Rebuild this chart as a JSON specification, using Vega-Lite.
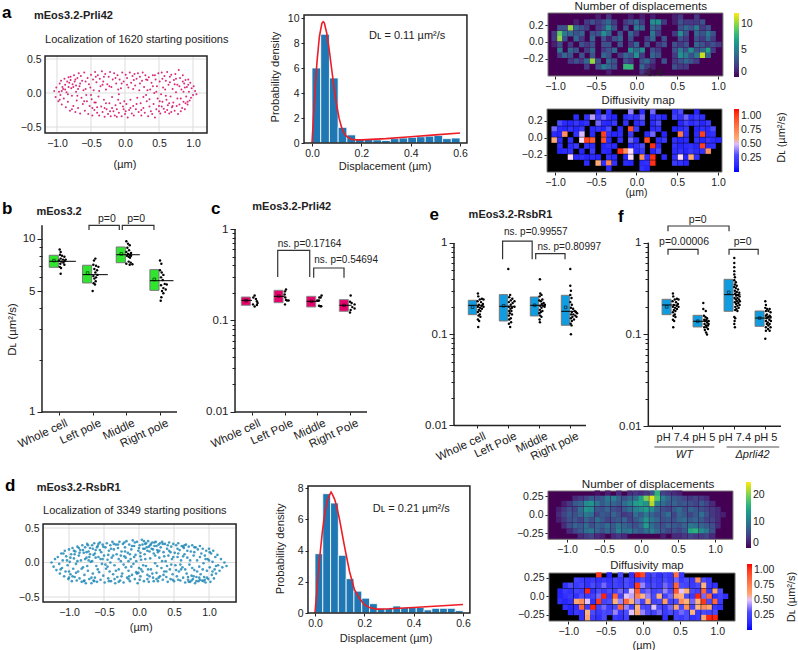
{"$schema":"https://vega.github.io/schema/vega-lite/v6.json","padding":0,"spacing":0,"data":{"values":[{"a":1}]},"resolve":{"scale":{"color":"independent"}},
"config":{"font":"Liberation Sans","view":{"stroke":null,"fill":"transparent"},"axis":{"domain":false,"grid":false,"labelOverlap":false,"tickCount":1000,"labelFontSize":10.5,"labelColor":"#222","tickColor":"#222","tickSize":3,"labelPadding":2,"title":null},"text":{"color":"#222","fontSize":11},"rule":{"color":"#222"},"legend":{"labelFontSize":10.5,"labelColor":"#222","labelOverlap":false}},
"datasets":{
"boxB":[{"x0":0.71,"x1":0.98,"xe":1.5,"q1":6.86,"q3":8.05,"med":7.43,"xm":0.85,"mean":7.5},{"x0":1.7,"x1":1.97,"xe":2.45,"q1":5.57,"q3":7.05,"med":6.22,"xm":1.85,"mean":6.35},{"x0":2.7,"x1":2.97,"xe":3.4,"q1":7.29,"q3":8.99,"med":8.11,"xm":2.85,"mean":8.2},{"x0":3.7,"x1":3.97,"xe":4.4,"q1":5.05,"q3":6.65,"med":5.74,"xm":3.83,"mean":5.84}],
"boxC":[{"x0":0.673,"x1":0.95,"xe":1.0,"q1":0.1466,"q3":0.1806,"med":0.166,"xm":0.82,"mean":0.165},{"x0":1.673,"x1":1.95,"xe":2.0,"q1":0.1566,"q3":0.2138,"med":0.1837,"xm":1.82,"mean":0.185},{"x0":2.673,"x1":2.95,"xe":3.05,"q1":0.1405,"q3":0.1837,"med":0.162,"xm":2.82,"mean":0.162},{"x0":3.673,"x1":3.95,"xe":4.05,"q1":0.126,"q3":0.169,"med":0.1466,"xm":3.82,"mean":0.1466}],
"boxE":[{"x0":0.71,"x1":0.98,"xe":1.2,"q1":0.1638,"q3":0.2355,"med":0.2075,"xm":0.85,"mean":0.198},{"x0":1.71,"x1":1.98,"xe":2.2,"q1":0.1397,"q3":0.2716,"med":0.2023,"xm":1.85,"mean":0.205},{"x0":2.71,"x1":2.98,"xe":3.2,"q1":0.1585,"q3":0.256,"med":0.2075,"xm":2.85,"mean":0.2075},{"x0":3.71,"x1":3.98,"xe":4.2,"q1":0.1253,"q3":0.2672,"med":0.1783,"xm":3.85,"mean":0.197}],
"boxF":[{"x0":0.67,"x1":0.96,"xe":1.2,"q1":0.1644,"q3":0.2417,"med":0.2096,"xm":0.82,"mean":0.2},{"x0":1.67,"x1":1.96,"xe":2.2,"q1":0.1208,"q3":0.1618,"med":0.1393,"xm":1.82,"mean":0.1393},{"x0":2.67,"x1":2.96,"xe":3.2,"q1":0.179,"q3":0.399,"med":0.2716,"xm":2.82,"mean":0.288},{"x0":3.67,"x1":3.96,"xe":4.2,"q1":0.1228,"q3":0.1803,"med":0.151,"xm":3.82,"mean":0.151}],
"ptB":[{"x":1.02,"y":8.7},{"x":1.05,"y":8.4},{"x":1.03,"y":8.1},{"x":1.09,"y":8.0},{"x":1.16,"y":7.9},{"x":1.05,"y":7.7},{"x":1.12,"y":7.6},{"x":1.2,"y":7.6},{"x":1.0,"y":7.5},{"x":1.17,"y":7.45},{"x":1.07,"y":7.4},{"x":1.13,"y":7.3},{"x":1.04,"y":7.2},{"x":1.16,"y":7.1},{"x":1.02,"y":6.9},{"x":1.06,"y":6.8},{"x":1.05,"y":6.3},
{"x":2.08,"y":7.7},{"x":2.04,"y":7.5},{"x":2.02,"y":7.1},{"x":2.1,"y":7.0},{"x":2.17,"y":6.9},{"x":2.05,"y":6.7},{"x":2.13,"y":6.6},{"x":2.08,"y":6.4},{"x":2.14,"y":6.2},{"x":2.02,"y":6.1},{"x":2.1,"y":6.0},{"x":2.05,"y":5.9},{"x":2.09,"y":5.7},{"x":2.03,"y":5.55},{"x":2.07,"y":5.45},{"x":2.0,"y":5.0},
{"x":3.0,"y":9.7},{"x":3.05,"y":9.4},{"x":3.1,"y":9.2},{"x":3.03,"y":8.9},{"x":3.08,"y":8.6},{"x":3.0,"y":8.4},{"x":3.14,"y":8.3},{"x":3.05,"y":8.2},{"x":3.1,"y":8.1},{"x":3.02,"y":8.0},{"x":3.14,"y":8.0},{"x":3.07,"y":7.9},{"x":3.11,"y":7.8},{"x":3.0,"y":7.2},{"x":3.07,"y":7.4},{"x":3.13,"y":7.3},{"x":3.18,"y":7.15},{"x":3.1,"y":7.1},
{"x":4.0,"y":7.5},{"x":4.04,"y":7.2},{"x":4.0,"y":6.6},{"x":4.05,"y":6.4},{"x":4.1,"y":6.2},{"x":4.03,"y":6.0},{"x":4.08,"y":5.8},{"x":4.14,"y":5.5},{"x":4.2,"y":5.45},{"x":4.03,"y":5.4},{"x":4.1,"y":5.2},{"x":4.17,"y":5.1},{"x":4.06,"y":5.0},{"x":4.1,"y":4.85},{"x":4.04,"y":4.6},{"x":4.02,"y":4.4}],
"ptC":[{"x":1.08,"y":0.188},{"x":1.04,"y":0.178},{"x":1.12,"y":0.172},{"x":1.15,"y":0.162},{"x":1.17,"y":0.155},{"x":1.15,"y":0.148},{"x":1.08,"y":0.142},{"x":1.03,"y":0.15},
{"x":2.04,"y":0.218},{"x":2.01,"y":0.208},{"x":2.0,"y":0.192},{"x":2.02,"y":0.178},{"x":2.07,"y":0.165},{"x":2.12,"y":0.165},{"x":2.01,"y":0.15},{"x":2.04,"y":0.168},
{"x":3.13,"y":0.188},{"x":3.06,"y":0.178},{"x":3.1,"y":0.178},{"x":3.0,"y":0.165},{"x":3.05,"y":0.165},{"x":3.05,"y":0.145},{"x":3.09,"y":0.143},{"x":3.12,"y":0.143},
{"x":4.02,"y":0.188},{"x":4.0,"y":0.16},{"x":4.05,"y":0.155},{"x":4.14,"y":0.15},{"x":4.07,"y":0.14},{"x":4.14,"y":0.135},{"x":4.02,"y":0.13},{"x":4.0,"y":0.122}],
"ptE":[{"x":1.02,"y":0.28},{"x":1.03,"y":0.26},{"x":1.15,"y":0.245},{"x":1.2,"y":0.24},{"x":1.08,"y":0.24},{"x":1.01,"y":0.23},{"x":1.12,"y":0.225},{"x":1.18,"y":0.215},{"x":1.05,"y":0.21},{"x":1.14,"y":0.205},{"x":1.2,"y":0.2},{"x":1.02,"y":0.2},{"x":1.09,"y":0.195},{"x":1.15,"y":0.19},{"x":1.05,"y":0.185},{"x":1.1,"y":0.18},{"x":1.02,"y":0.175},{"x":1.08,"y":0.165},{"x":1.04,"y":0.16},{"x":1.1,"y":0.155},{"x":1.02,"y":0.145},{"x":1.06,"y":0.14},{"x":1.03,"y":0.12},
{"x":2.0,"y":0.52},{"x":2.06,"y":0.27},{"x":2.03,"y":0.255},{"x":2.13,"y":0.245},{"x":2.08,"y":0.235},{"x":2.2,"y":0.23},{"x":2.02,"y":0.225},{"x":2.14,"y":0.22},{"x":2.08,"y":0.21},{"x":2.2,"y":0.2},{"x":2.02,"y":0.2},{"x":2.12,"y":0.195},{"x":2.07,"y":0.19},{"x":2.03,"y":0.18},{"x":2.1,"y":0.18},{"x":2.05,"y":0.17},{"x":2.12,"y":0.165},{"x":2.02,"y":0.16},{"x":2.08,"y":0.15},{"x":2.03,"y":0.145},{"x":2.09,"y":0.135},{"x":2.02,"y":0.13},{"x":2.06,"y":0.12},
{"x":3.02,"y":0.4},{"x":3.03,"y":0.28},{"x":3.07,"y":0.27},{"x":3.01,"y":0.26},{"x":3.1,"y":0.24},{"x":3.0,"y":0.235},{"x":3.05,"y":0.23},{"x":3.14,"y":0.22},{"x":3.08,"y":0.215},{"x":3.18,"y":0.21},{"x":3.03,"y":0.205},{"x":3.12,"y":0.205},{"x":3.17,"y":0.2},{"x":3.07,"y":0.195},{"x":3.02,"y":0.185},{"x":3.1,"y":0.18},{"x":3.05,"y":0.175},{"x":3.0,"y":0.17},{"x":3.03,"y":0.16},{"x":3.07,"y":0.155},{"x":3.01,"y":0.145},{"x":3.02,"y":0.135},
{"x":4.0,"y":0.52},{"x":4.0,"y":0.34},{"x":4.02,"y":0.3},{"x":4.0,"y":0.27},{"x":4.04,"y":0.25},{"x":4.0,"y":0.225},{"x":4.05,"y":0.21},{"x":4.02,"y":0.195},{"x":4.09,"y":0.19},{"x":4.14,"y":0.18},{"x":4.18,"y":0.175},{"x":4.05,"y":0.175},{"x":4.22,"y":0.17},{"x":4.1,"y":0.165},{"x":4.03,"y":0.165},{"x":4.16,"y":0.16},{"x":4.07,"y":0.155},{"x":4.2,"y":0.155},{"x":4.02,"y":0.15},{"x":4.12,"y":0.145},{"x":4.05,"y":0.14},{"x":4.01,"y":0.13},{"x":4.04,"y":0.125},{"x":4.02,"y":0.1}],
"ptF":[{"x":1.02,"y":0.28},{"x":1.03,"y":0.26},{"x":1.15,"y":0.245},{"x":1.2,"y":0.24},{"x":1.08,"y":0.24},{"x":1.01,"y":0.23},{"x":1.12,"y":0.225},{"x":1.18,"y":0.215},{"x":1.05,"y":0.21},{"x":1.14,"y":0.205},{"x":1.2,"y":0.2},{"x":1.02,"y":0.2},{"x":1.09,"y":0.195},{"x":1.15,"y":0.19},{"x":1.05,"y":0.185},{"x":1.1,"y":0.18},{"x":1.02,"y":0.175},{"x":1.08,"y":0.165},{"x":1.04,"y":0.16},{"x":1.1,"y":0.155},{"x":1.02,"y":0.145},{"x":1.06,"y":0.14},{"x":1.03,"y":0.12},
{"x":2.0,"y":0.22},{"x":2.0,"y":0.19},{"x":2.08,"y":0.18},{"x":2.02,"y":0.16},{"x":2.07,"y":0.155},{"x":2.12,"y":0.15},{"x":2.03,"y":0.145},{"x":2.1,"y":0.145},{"x":2.17,"y":0.14},{"x":2.05,"y":0.14},{"x":2.12,"y":0.135},{"x":2.17,"y":0.13},{"x":2.04,"y":0.13},{"x":2.09,"y":0.125},{"x":2.15,"y":0.125},{"x":2.03,"y":0.12},{"x":2.1,"y":0.12},{"x":2.15,"y":0.115},{"x":2.05,"y":0.112},{"x":2.09,"y":0.105},{"x":2.12,"y":0.1},
{"x":3.0,"y":0.68},{"x":3.0,"y":0.6},{"x":3.0,"y":0.54},{"x":3.0,"y":0.49},{"x":3.0,"y":0.45},{"x":3.02,"y":0.42},{"x":3.0,"y":0.39},{"x":3.05,"y":0.37},{"x":3.02,"y":0.35},{"x":3.08,"y":0.34},{"x":3.0,"y":0.33},{"x":3.05,"y":0.32},{"x":3.12,"y":0.31},{"x":3.02,"y":0.3},{"x":3.08,"y":0.29},{"x":3.16,"y":0.285},{"x":3.03,"y":0.28},{"x":3.12,"y":0.27},{"x":3.06,"y":0.265},{"x":3.17,"y":0.26},{"x":3.01,"y":0.25},{"x":3.1,"y":0.25},{"x":3.15,"y":0.24},{"x":3.05,"y":0.24},{"x":3.18,"y":0.23},{"x":3.09,"y":0.23},{"x":3.02,"y":0.225},{"x":3.13,"y":0.22},{"x":3.06,"y":0.215},{"x":3.17,"y":0.21},{"x":3.1,"y":0.205},{"x":3.03,"y":0.2},{"x":3.14,"y":0.195},{"x":3.07,"y":0.19},{"x":3.03,"y":0.185},{"x":3.1,"y":0.18},{"x":3.0,"y":0.155},{"x":3.03,"y":0.15},{"x":3.01,"y":0.14},{"x":3.0,"y":0.13},{"x":3.02,"y":0.12},
{"x":4.0,"y":0.23},{"x":4.02,"y":0.21},{"x":4.0,"y":0.195},{"x":4.06,"y":0.19},{"x":4.14,"y":0.19},{"x":4.02,"y":0.18},{"x":4.1,"y":0.18},{"x":4.17,"y":0.175},{"x":4.05,"y":0.165},{"x":4.14,"y":0.16},{"x":4.02,"y":0.16},{"x":4.09,"y":0.155},{"x":4.17,"y":0.155},{"x":4.04,"y":0.15},{"x":4.13,"y":0.145},{"x":4.18,"y":0.14},{"x":4.02,"y":0.14},{"x":4.08,"y":0.135},{"x":4.14,"y":0.13},{"x":4.05,"y":0.13},{"x":4.1,"y":0.125},{"x":4.17,"y":0.12},{"x":4.02,"y":0.12},{"x":4.09,"y":0.115},{"x":4.14,"y":0.11},{"x":4.02,"y":0.11},{"x":4.0,"y":0.09}],
"scatA":[{"x":-1.04,"y":0.03},{"x":-1.02,"y":-0.06},{"x":-1.01,"y":0.08},{"x":-0.98,"y":-0.12},{"x":-0.97,"y":0.02},{"x":-0.96,"y":0.14},{"x":-0.95,"y":-0.03},{"x":-0.94,"y":0.18},{"x":-0.93,"y":-0.17},{"x":-0.92,"y":0.09},{"x":-0.91,"y":0.06},{"x":-0.9,"y":-0.08},{"x":-0.89,"y":0.21},{"x":-0.88,"y":0.12},{"x":-0.87,"y":-0.21},{"x":-0.86,"y":0.01},{"x":-0.85,"y":0.17},{"x":-0.84,"y":-0.13},{"x":-0.83,"y":0.23},{"x":-0.82,"y":0.15},{"x":-0.81,"y":-0.26},{"x":-0.8,"y":0.19},{"x":-0.79,"y":0.07},{"x":-0.78,"y":-0.04},{"x":-0.77,"y":0.13},{"x":-0.76,"y":-0.19},{"x":-0.75,"y":0.26},{"x":-0.74,"y":0.17},{"x":-0.73,"y":-0.28},{"x":-0.72,"y":0.02},{"x":-0.71,"y":-0.11},{"x":-0.7,"y":0.22},{"x":-0.69,"y":-0.22},{"x":-0.68,"y":0.29},{"x":-0.67,"y":0.1},{"x":-0.66,"y":-0.3},{"x":-0.65,"y":0.25},{"x":-0.64,"y":-0.07},{"x":-0.63,"y":0.18},{"x":-0.62,"y":-0.16},{"x":-0.6,"y":0.3},{"x":-0.59,"y":-0.26},{"x":-0.58,"y":0.06},{"x":-0.57,"y":-0.03},{"x":-0.55,"y":0.22},{"x":-0.54,"y":-0.31},{"x":-0.53,"y":0.13},{"x":-0.52,"y":-0.19},{"x":-0.5,"y":0.27},{"x":-0.49,"y":-0.09},{"x":-0.48,"y":-0.33},{"x":-0.47,"y":0.2},{"x":-0.46,"y":0.04},{"x":-0.45,"y":-0.25},{"x":-0.44,"y":0.31},{"x":-0.43,"y":-0.14},{"x":-0.42,"y":0.16},{"x":-0.41,"y":-0.29},{"x":-0.4,"y":0.26},{"x":-0.39,"y":-0.05},{"x":-0.38,"y":-0.33},{"x":-0.37,"y":0.21},{"x":-0.36,"y":0.1},{"x":-0.35,"y":-0.2},{"x":-0.34,"y":0.32},{"x":-0.33,"y":-0.28},{"x":-0.32,"y":0.17},{"x":-0.31,"y":-0.1},{"x":-0.3,"y":-0.35},{"x":-0.29,"y":0.28},{"x":-0.28,"y":0.05},{"x":-0.27,"y":-0.24},{"x":-0.26,"y":0.13},{"x":-0.25,"y":-0.31},{"x":-0.24,"y":0.24},{"x":-0.23,"y":-0.15},{"x":-0.22,"y":0.31},{"x":-0.21,"y":-0.34},{"x":-0.2,"y":0.09},{"x":-0.19,"y":-0.06},{"x":-0.18,"y":0.2},{"x":-0.17,"y":-0.27},{"x":-0.16,"y":0.29},{"x":-0.15,"y":-0.33},{"x":-0.14,"y":-0.18},{"x":-0.13,"y":0.14},{"x":-0.12,"y":-0.35},{"x":-0.11,"y":0.26},{"x":-0.1,"y":-0.1},{"x":-0.09,"y":-0.29},{"x":-0.08,"y":0.2},{"x":-0.07,"y":-0.15},{"x":-0.06,"y":0.07},{"x":-0.05,"y":-0.34},{"x":-0.04,"y":0.3},{"x":-0.03,"y":-0.2},{"x":-0.02,"y":0.17},{"x":-0.01,"y":-0.12},{"x":0.0,"y":-0.31},{"x":0.01,"y":0.27},{"x":0.02,"y":-0.16},{"x":0.03,"y":0.22},{"x":0.04,"y":-0.36},{"x":0.05,"y":0.08},{"x":0.06,"y":-0.25},{"x":0.07,"y":0.3},{"x":0.08,"y":-0.1},{"x":0.09,"y":0.15},{"x":0.1,"y":-0.3},{"x":0.11,"y":0.25},{"x":0.12,"y":-0.19},{"x":0.13,"y":-0.33},{"x":0.14,"y":0.28},{"x":0.15,"y":0.11},{"x":0.16,"y":-0.24},{"x":0.17,"y":0.21},{"x":0.18,"y":-0.07},{"x":0.19,"y":0.29},{"x":0.2,"y":-0.28},{"x":0.21,"y":0.04},{"x":0.22,"y":0.24},{"x":0.23,"y":-0.15},{"x":0.24,"y":-0.33},{"x":0.25,"y":0.18},{"x":0.26,"y":0.3},{"x":0.27,"y":-0.22},{"x":0.28,"y":0.09},{"x":0.29,"y":-0.29},{"x":0.3,"y":0.26},{"x":0.31,"y":-0.03},{"x":0.32,"y":-0.12},{"x":0.33,"y":0.19},{"x":0.34,"y":-0.34},{"x":0.35,"y":0.23},{"x":0.36,"y":-0.2},{"x":0.37,"y":0.05},{"x":0.38,"y":-0.27},{"x":0.39,"y":0.15},{"x":0.4,"y":-0.31},{"x":0.41,"y":0.26},{"x":0.42,"y":-0.16},{"x":0.43,"y":0.0},{"x":0.44,"y":-0.36},{"x":0.45,"y":0.2},{"x":0.46,"y":-0.24},{"x":0.47,"y":0.1},{"x":0.48,"y":-0.08},{"x":0.49,"y":0.29},{"x":0.5,"y":-0.19},{"x":0.51,"y":0.17},{"x":0.52,"y":-0.3},{"x":0.53,"y":-0.02},{"x":0.54,"y":0.3},{"x":0.55,"y":-0.13},{"x":0.56,"y":0.08},{"x":0.57,"y":-0.23},{"x":0.58,"y":0.25},{"x":0.59,"y":-0.28},{"x":0.6,"y":0.18},{"x":0.61,"y":-0.1},{"x":0.62,"y":0.31},{"x":0.63,"y":-0.18},{"x":0.64,"y":0.12},{"x":0.65,"y":-0.3},{"x":0.66,"y":0.24},{"x":0.67,"y":-0.05},{"x":0.68,"y":0.27},{"x":0.69,"y":-0.21},{"x":0.7,"y":0.06},{"x":0.71,"y":-0.14},{"x":0.72,"y":0.19},{"x":0.73,"y":-0.26},{"x":0.74,"y":0.28},{"x":0.75,"y":0.01},{"x":0.76,"y":-0.19},{"x":0.77,"y":0.12},{"x":0.78,"y":-0.31},{"x":0.79,"y":0.34},{"x":0.8,"y":-0.17},{"x":0.81,"y":0.22},{"x":0.82,"y":-0.08},{"x":0.83,"y":0.05},{"x":0.84,"y":-0.22},{"x":0.85,"y":0.26},{"x":0.86,"y":-0.13},{"x":0.87,"y":0.14},{"x":0.88,"y":-0.24},{"x":0.89,"y":0.19},{"x":0.9,"y":-0.05},{"x":0.91,"y":0.09},{"x":0.92,"y":-0.17},{"x":0.93,"y":0.2},{"x":0.94,"y":0.02},{"x":0.95,"y":-0.11},{"x":0.96,"y":0.15},{"x":0.97,"y":-0.07},{"x":0.98,"y":0.07},{"x":1.0,"y":-0.03},{"x":1.01,"y":0.1},{"x":1.03,"y":0.03},{"x":1.05,"y":-0.02},{"x":-0.88,"y":0.05},{"x":-0.8,"y":0.24},{"x":-0.72,"y":0.11},{"x":-0.6,"y":-0.12},{"x":-0.45,"y":-0.14},{"x":-0.3,"y":-0.22},{"x":-0.1,"y":0.05},{"x":0.5,"y":-0.27},{"x":0.65,"y":-0.15},{"x":0.8,"y":0.1},{"x":0.86,"y":0.02},{"x":0.92,"y":-0.13},
{"x":-0.93,"y":0.03},{"x":-0.84,"y":-0.02},{"x":-0.76,"y":0.09},{"x":-0.73,"y":0.2},{"x":-0.7,"y":-0.04},{"x":-0.66,"y":0.14},{"x":-0.61,"y":0.04},{"x":-0.56,"y":-0.12},{"x":-0.51,"y":0.08},{"x":-0.48,"y":-0.22},{"x":-0.43,"y":0.24},{"x":-0.38,"y":0.03},{"x":-0.33,"y":0.12},{"x":-0.28,"y":-0.15},{"x":-0.23,"y":0.1},{"x":-0.19,"y":-0.22},{"x":-0.14,"y":0.22},{"x":-0.09,"y":-0.02},{"x":-0.05,"y":0.14},{"x":-0.02,"y":-0.24},{"x":0.03,"y":0.12},{"x":0.08,"y":-0.22},{"x":0.12,"y":0.06},{"x":0.17,"y":-0.16},{"x":0.22,"y":0.14},{"x":0.27,"y":-0.06},{"x":0.31,"y":0.2},{"x":0.36,"y":-0.09},{"x":0.41,"y":0.1},{"x":0.46,"y":0.02},{"x":0.51,"y":-0.12},{"x":0.55,"y":0.21},{"x":0.59,"y":0.05},{"x":0.62,"y":-0.25},{"x":0.66,"y":0.16},{"x":0.7,"y":-0.19},{"x":0.73,"y":0.13},{"x":0.77,"y":-0.08},{"x":0.82,"y":-0.27},{"x":0.85,"y":0.17},{"x":0.89,"y":-0.15},{"x":0.93,"y":0.12},{"x":-0.96,"y":-0.1},{"x":-0.83,"y":0.09},{"x":-0.78,"y":-0.24},{"x":-0.69,"y":0.06},{"x":-0.58,"y":0.17},{"x":-0.5,"y":-0.03},{"x":-0.41,"y":-0.21},{"x":-0.31,"y":0.24},{"x":-0.22,"y":-0.27},{"x":-0.12,"y":-0.24},{"x":0.01,"y":-0.27},{"x":0.13,"y":0.19},{"x":0.24,"y":-0.25},{"x":0.33,"y":0.04},{"x":0.44,"y":0.26},{"x":0.54,"y":-0.2},{"x":0.6,"y":-0.04},{"x":0.68,"y":-0.28},{"x":0.75,"y":0.21},{"x":0.88,"y":0.08}],
"scatD":[{"x":-1.25,"y":0.0},{"x":-1.22,"y":-0.06},{"x":-1.2,"y":0.05},{"x":-1.18,"y":-0.11},{"x":-1.16,"y":0.08},{"x":-1.14,"y":-0.02},{"x":-1.13,"y":-0.16},{"x":-1.11,"y":0.13},{"x":-1.1,"y":-0.08},{"x":-1.09,"y":0.03},{"x":-1.07,"y":-0.2},{"x":-1.06,"y":0.17},{"x":-1.05,"y":-0.13},{"x":-1.04,"y":0.09},{"x":-1.02,"y":-0.04},{"x":-1.01,"y":-0.24},{"x":-1.0,"y":0.19},{"x":-0.99,"y":0.01},{"x":-0.98,"y":-0.17},{"x":-0.97,"y":0.12},{"x":-0.96,"y":-0.27},{"x":-0.95,"y":0.21},{"x":-0.94,"y":-0.09},{"x":-0.93,"y":0.06},{"x":-0.92,"y":-0.21},{"x":-0.91,"y":0.16},{"x":-0.9,"y":-0.02},{"x":-0.89,"y":-0.26},{"x":-0.88,"y":0.23},{"x":-0.87,"y":-0.13},{"x":-0.86,"y":0.1},{"x":-0.85,"y":-0.23},{"x":-0.84,"y":0.18},{"x":-0.83,"y":0.03},{"x":-0.82,"y":-0.28},{"x":-0.81,"y":0.25},{"x":-0.8,"y":-0.07},{"x":-0.79,"y":0.14},{"x":-0.78,"y":-0.18},{"x":-0.77,"y":0.22},{"x":-0.76,"y":-0.3},{"x":-0.75,"y":0.07},{"x":-0.74,"y":0.27},{"x":-0.73,"y":-0.12},{"x":-0.72,"y":0.16},{"x":-0.71,"y":-0.24},{"x":-0.7,"y":0.21},{"x":-0.69,"y":0.01},{"x":-0.68,"y":-0.3},{"x":-0.67,"y":0.25},{"x":-0.66,"y":-0.16},{"x":-0.65,"y":0.11},{"x":-0.64,"y":0.28},{"x":-0.63,"y":-0.22},{"x":-0.62,"y":0.18},{"x":-0.61,"y":-0.05},{"x":-0.6,"y":-0.28},{"x":-0.59,"y":0.24},{"x":-0.58,"y":0.08},{"x":-0.57,"y":-0.14},{"x":-0.56,"y":0.29},{"x":-0.55,"y":-0.25},{"x":-0.54,"y":0.15},{"x":-0.53,"y":-0.02},{"x":-0.52,"y":0.26},{"x":-0.51,"y":-0.19},{"x":-0.5,"y":0.1},{"x":-0.49,"y":-0.29},{"x":-0.48,"y":0.22},{"x":-0.47,"y":-0.09},{"x":-0.46,"y":0.28},{"x":-0.45,"y":0.04},{"x":-0.44,"y":-0.23},{"x":-0.43,"y":0.17},{"x":-0.42,"y":-0.13},{"x":-0.41,"y":0.25},{"x":-0.4,"y":-0.27},{"x":-0.39,"y":0.07},{"x":-0.38,"y":0.3},{"x":-0.37,"y":-0.17},{"x":-0.36,"y":0.19},{"x":-0.35,"y":-0.04},{"x":-0.34,"y":-0.3},{"x":-0.33,"y":0.26},{"x":-0.32,"y":0.12},{"x":-0.31,"y":-0.21},{"x":-0.3,"y":0.21},{"x":-0.29,"y":-0.1},{"x":-0.28,"y":0.3},{"x":-0.27,"y":-0.26},{"x":-0.26,"y":0.02},{"x":-0.25,"y":0.16},{"x":-0.24,"y":-0.16},{"x":-0.23,"y":0.27},{"x":-0.22,"y":-0.29},{"x":-0.21,"y":0.09},{"x":-0.2,"y":0.22},{"x":-0.19,"y":-0.07},{"x":-0.18,"y":0.31},{"x":-0.17,"y":-0.22},{"x":-0.16,"y":0.14},{"x":-0.15,"y":-0.12},{"x":-0.14,"y":0.26},{"x":-0.13,"y":-0.27},{"x":-0.12,"y":0.05},{"x":-0.11,"y":0.19},{"x":-0.1,"y":-0.18},{"x":-0.09,"y":0.32},{"x":-0.08,"y":-0.02},{"x":-0.07,"y":0.24},{"x":-0.06,"y":-0.24},{"x":-0.05,"y":0.11},{"x":-0.04,"y":-0.14},{"x":-0.03,"y":0.3},{"x":-0.02,"y":-0.3},{"x":-0.01,"y":0.17},{"x":0.0,"y":-0.08},{"x":0.01,"y":0.25},{"x":0.02,"y":-0.2},{"x":0.03,"y":0.04},{"x":0.04,"y":0.33},{"x":0.05,"y":-0.13},{"x":0.06,"y":0.2},{"x":0.07,"y":-0.27},{"x":0.08,"y":0.12},{"x":0.09,"y":0.27},{"x":0.1,"y":-0.05},{"x":0.11,"y":0.22},{"x":0.12,"y":-0.18},{"x":0.13,"y":0.31},{"x":0.14,"y":-0.28},{"x":0.15,"y":0.16},{"x":0.16,"y":0.25},{"x":0.17,"y":-0.1},{"x":0.18,"y":0.2},{"x":0.19,"y":0.29},{"x":0.2,"y":-0.22},{"x":0.21,"y":0.13},{"x":0.22,"y":0.24},{"x":0.23,"y":-0.01},{"x":0.24,"y":0.3},{"x":0.25,"y":-0.15},{"x":0.26,"y":0.18},{"x":0.27,"y":-0.27},{"x":0.28,"y":0.26},{"x":0.29,"y":0.07},{"x":0.3,"y":-0.2},{"x":0.31,"y":0.22},{"x":0.32,"y":-0.08},{"x":0.33,"y":0.3},{"x":0.34,"y":-0.25},{"x":0.35,"y":0.15},{"x":0.36,"y":-0.13},{"x":0.37,"y":0.27},{"x":0.38,"y":0.02},{"x":0.39,"y":-0.21},{"x":0.4,"y":0.2},{"x":0.41,"y":-0.28},{"x":0.42,"y":0.1},{"x":0.43,"y":0.29},{"x":0.44,"y":-0.1},{"x":0.45,"y":-0.24},{"x":0.46,"y":0.23},{"x":0.47,"y":0.05},{"x":0.48,"y":-0.17},{"x":0.49,"y":0.27},{"x":0.5,"y":-0.27},{"x":0.51,"y":0.14},{"x":0.52,"y":-0.04},{"x":0.53,"y":0.25},{"x":0.54,"y":-0.2},{"x":0.55,"y":0.08},{"x":0.56,"y":0.28},{"x":0.57,"y":-0.13},{"x":0.58,"y":0.18},{"x":0.59,"y":-0.26},{"x":0.6,"y":0.03},{"x":0.61,"y":0.24},{"x":0.62,"y":-0.07},{"x":0.63,"y":-0.22},{"x":0.64,"y":0.21},{"x":0.65,"y":0.12},{"x":0.66,"y":-0.29},{"x":0.67,"y":0.26},{"x":0.68,"y":-0.16},{"x":0.69,"y":0.07},{"x":0.7,"y":-0.25},{"x":0.71,"y":0.23},{"x":0.72,"y":-0.03},{"x":0.73,"y":-0.28},{"x":0.74,"y":0.16},{"x":0.75,"y":-0.19},{"x":0.76,"y":0.25},{"x":0.77,"y":-0.24},{"x":0.78,"y":0.1},{"x":0.79,"y":-0.11},{"x":0.8,"y":-0.3},{"x":0.81,"y":0.22},{"x":0.82,"y":-0.21},{"x":0.83,"y":0.03},{"x":0.84,"y":0.19},{"x":0.85,"y":-0.27},{"x":0.86,"y":-0.06},{"x":0.87,"y":0.24},{"x":0.88,"y":-0.17},{"x":0.89,"y":0.13},{"x":0.9,"y":-0.26},{"x":0.91,"y":0.2},{"x":0.92,"y":-0.01},{"x":0.93,"y":-0.21},{"x":0.94,"y":0.1},{"x":0.95,"y":-0.29},{"x":0.96,"y":0.17},{"x":0.97,"y":-0.12},{"x":0.98,"y":0.05},{"x":0.99,"y":-0.24},{"x":1.0,"y":0.2},{"x":1.01,"y":-0.07},{"x":1.02,"y":-0.28},{"x":1.03,"y":0.13},{"x":1.04,"y":-0.18},{"x":1.05,"y":0.01},{"x":1.06,"y":0.17},{"x":1.07,"y":-0.23},{"x":1.08,"y":-0.1},{"x":1.09,"y":0.08},{"x":1.1,"y":-0.16},{"x":1.12,"y":0.11},{"x":1.13,"y":-0.04},{"x":1.15,"y":-0.12},{"x":1.17,"y":0.05},{"x":1.19,"y":-0.07},{"x":1.22,"y":0.0},{"x":1.25,"y":-0.05},{"x":-0.75,"y":0.15},{"x":-0.72,"y":0.03},{"x":-0.7,"y":0.12},{"x":-0.68,"y":-0.22},{"x":-0.66,"y":0.2},{"x":-0.64,"y":-0.27},{"x":-0.78,"y":-0.26},{"x":-0.8,"y":0.18},{"x":-0.62,"y":0.07},{"x":-0.6,"y":0.22},{"x":0.05,"y":0.26},{"x":0.08,"y":0.2},{"x":0.1,"y":0.28},{"x":0.12,"y":0.17},{"x":0.14,"y":0.23},{"x":0.17,"y":0.27},{"x":0.2,"y":0.19},{"x":0.22,"y":0.29},{"x":0.25,"y":0.24},{"x":0.27,"y":0.15},{"x":0.3,"y":0.28},{"x":0.02,"y":0.14},{"x":0.0,"y":0.21},{"x":-0.03,"y":-0.16},{"x":0.03,"y":-0.1},{"x":0.75,"y":-0.26},{"x":0.78,"y":-0.2},{"x":0.82,"y":-0.27},{"x":0.86,"y":-0.22},{"x":0.7,"y":-0.21},{"x":0.92,"y":-0.27},{"x":0.97,"y":-0.22},{"x":-0.4,"y":0.2},{"x":-0.3,"y":0.26},{"x":-0.2,"y":0.16},{"x":-0.1,"y":0.24},{"x":-0.35,"y":-0.24},{"x":-0.25,"y":-0.2},{"x":-0.15,"y":-0.24},{"x":0.15,"y":-0.2},{"x":0.25,"y":-0.24},{"x":0.35,"y":-0.18},{"x":0.45,"y":0.15},{"x":0.55,"y":0.2},{"x":0.65,"y":0.25},{"x":-0.95,"y":-0.2},{"x":-1.0,"y":-0.13},{"x":-0.9,"y":-0.15},{"x":-0.55,"y":0.05},{"x":-0.45,"y":-0.06},{"x":-0.15,"y":0.02},{"x":0.4,"y":-0.05},{"x":0.6,"y":-0.1},
{"x":-1.12,"y":-0.1},{"x":-1.03,"y":0.03},{"x":-0.98,"y":0.07},{"x":-0.92,"y":0.12},{"x":-0.88,"y":0.02},{"x":-0.85,"y":0.14},{"x":-0.82,"y":-0.09},{"x":-0.77,"y":0.05},{"x":-0.74,"y":-0.05},{"x":-0.71,"y":0.08},{"x":-0.67,"y":0.02},{"x":-0.63,"y":0.13},{"x":-0.59,"y":-0.1},{"x":-0.56,"y":0.18},{"x":-0.52,"y":0.05},{"x":-0.48,"y":-0.03},{"x":-0.44,"y":0.11},{"x":-0.41,"y":0.0},{"x":-0.37,"y":0.1},{"x":-0.33,"y":-0.12},{"x":-0.29,"y":0.05},{"x":-0.26,"y":0.1},{"x":-0.22,"y":-0.03},{"x":-0.19,"y":0.07},{"x":-0.13,"y":0.12},{"x":-0.11,"y":-0.06},{"x":-0.07,"y":0.08},{"x":-0.04,"y":0.02},{"x":-0.01,"y":-0.15},{"x":0.02,"y":0.09},{"x":0.06,"y":-0.04},{"x":0.09,"y":0.05},{"x":0.13,"y":-0.1},{"x":0.16,"y":0.06},{"x":0.19,"y":-0.16},{"x":0.23,"y":0.1},{"x":0.26,"y":-0.05},{"x":0.29,"y":0.17},{"x":0.33,"y":0.02},{"x":0.36,"y":0.09},{"x":0.39,"y":-0.13},{"x":0.43,"y":0.17},{"x":0.46,"y":-0.03},{"x":0.49,"y":0.08},{"x":0.53,"y":-0.11},{"x":0.56,"y":0.13},{"x":0.59,"y":-0.03},{"x":0.63,"y":0.09},{"x":0.66,"y":-0.1},{"x":0.69,"y":0.17},{"x":0.73,"y":0.03},{"x":0.76,"y":-0.08},{"x":0.79,"y":0.15},{"x":0.83,"y":-0.13},{"x":0.87,"y":0.08},{"x":0.91,"y":-0.1},{"x":0.95,"y":0.05},{"x":1.0,"y":0.03},{"x":1.05,"y":-0.13},{"x":1.1,"y":-0.05},{"x":-1.08,"y":0.13},{"x":-1.0,"y":-0.22},{"x":-0.93,"y":0.17},{"x":-0.86,"y":0.21},{"x":-0.79,"y":-0.27},{"x":-0.73,"y":0.25},{"x":-0.65,"y":-0.26},{"x":-0.58,"y":0.27},{"x":-0.51,"y":0.23},{"x":-0.43,"y":-0.27},{"x":-0.36,"y":0.27},{"x":-0.29,"y":-0.28},{"x":-0.21,"y":0.29},{"x":-0.14,"y":-0.2},{"x":-0.06,"y":0.29},{"x":0.01,"y":-0.25},{"x":0.07,"y":0.31},{"x":0.12,"y":-0.24},{"x":0.21,"y":-0.27},{"x":0.28,"y":-0.22},{"x":0.34,"y":0.27},{"x":0.41,"y":0.25},{"x":0.48,"y":-0.25},{"x":0.56,"y":-0.25},{"x":0.63,"y":0.23},{"x":0.71,"y":-0.28},{"x":0.79,"y":0.22},{"x":0.87,"y":-0.25},{"x":0.94,"y":-0.25},{"x":1.01,"y":0.15}],
"heatA":[{"x":-0.47,"y":0.3,"v":1,"d":0.1},{"x":-0.34,"y":0.3,"v":2,"d":0.15},{"x":-0.07,"y":0.3,"v":1,"d":0.4},{"x":0.07,"y":0.3,"v":1,"d":0.12},{"x":0.2,"y":0.3,"v":1,"d":0.35},{"x":0.47,"y":0.3,"v":1,"d":0.15},{"x":0.54,"y":0.3,"v":2,"d":0.3},{"x":0.74,"y":0.3,"v":2,"d":0.1},
{"x":-0.74,"y":0.24,"v":1,"d":0.12},{"x":-0.61,"y":0.24,"v":2,"d":0.15},{"x":-0.54,"y":0.24,"v":3,"d":0.45},{"x":-0.47,"y":0.24,"v":2,"d":0.2},{"x":-0.4,"y":0.24,"v":3,"d":0.35},{"x":-0.34,"y":0.24,"v":4,"d":0.15},{"x":-0.27,"y":0.24,"v":2,"d":0.1},{"x":-0.13,"y":0.24,"v":2,"d":0.12},{"x":-0.07,"y":0.24,"v":3,"d":0.2},{"x":0,"y":0.24,"v":4,"d":0.15},{"x":0.07,"y":0.24,"v":2,"d":0.35},{"x":0.2,"y":0.24,"v":6,"d":0.12},{"x":0.27,"y":0.24,"v":6,"d":0.18},{"x":0.34,"y":0.24,"v":2,"d":0.1},{"x":0.47,"y":0.24,"v":1,"d":0.25},{"x":0.54,"y":0.24,"v":3,"d":0.15},{"x":0.61,"y":0.24,"v":2,"d":0.35},{"x":0.67,"y":0.24,"v":2,"d":0.12},{"x":0.74,"y":0.24,"v":2,"d":0.2},{"x":0.81,"y":0.24,"v":3,"d":0.15},
{"x":-0.94,"y":0.17,"v":3,"d":0.3},{"x":-0.88,"y":0.17,"v":3,"d":0.12},{"x":-0.81,"y":0.17,"v":10,"d":0.1},{"x":-0.74,"y":0.17,"v":4,"d":0.18},{"x":-0.67,"y":0.17,"v":3,"d":0.1},{"x":-0.61,"y":0.17,"v":2,"d":0.15},{"x":-0.47,"y":0.17,"v":2,"d":0.35},{"x":-0.4,"y":0.17,"v":3,"d":0.12},{"x":-0.34,"y":0.17,"v":6,"d":0.1},{"x":-0.27,"y":0.17,"v":3,"d":0.2},{"x":-0.13,"y":0.17,"v":3,"d":0.15},{"x":0,"y":0.17,"v":5,"d":0.12},{"x":0.07,"y":0.17,"v":4,"d":0.2},{"x":0.2,"y":0.17,"v":4,"d":0.12},{"x":0.27,"y":0.17,"v":3,"d":0.3},{"x":0.54,"y":0.17,"v":3,"d":0.1},{"x":0.61,"y":0.17,"v":4,"d":0.25},{"x":0.67,"y":0.17,"v":3,"d":0.12},{"x":0.74,"y":0.17,"v":5,"d":0.18},{"x":0.81,"y":0.17,"v":2,"d":0.1},{"x":0.88,"y":0.17,"v":3,"d":0.2},
{"x":-1.01,"y":0.1,"v":2,"d":0.35},{"x":-0.94,"y":0.1,"v":9,"d":0.12},{"x":-0.88,"y":0.1,"v":5,"d":0.1},{"x":-0.81,"y":0.1,"v":4,"d":0.15},{"x":-0.74,"y":0.1,"v":3,"d":0.1},{"x":-0.67,"y":0.1,"v":4,"d":0.2},{"x":-0.54,"y":0.1,"v":3,"d":0.12},{"x":-0.47,"y":0.1,"v":3,"d":0.15},{"x":-0.4,"y":0.1,"v":6,"d":0.1},{"x":-0.34,"y":0.1,"v":4,"d":0.3},{"x":-0.2,"y":0.1,"v":3,"d":0.12},{"x":-0.07,"y":0.1,"v":4,"d":0.95},{"x":0,"y":0.1,"v":2,"d":0.2},{"x":0.2,"y":0.1,"v":5,"d":0.12},{"x":0.27,"y":0.1,"v":2,"d":0.15},{"x":0.47,"y":0.1,"v":2,"d":0.1},{"x":0.54,"y":0.1,"v":6,"d":0.12},{"x":0.61,"y":0.1,"v":3,"d":0.18},{"x":0.74,"y":0.1,"v":4,"d":0.1},{"x":0.81,"y":0.1,"v":3,"d":0.15},{"x":0.88,"y":0.1,"v":5,"d":0.12},{"x":0.94,"y":0.1,"v":3,"d":0.3},
{"x":-1.01,"y":0.04,"v":2,"d":0.12},{"x":-0.94,"y":0.04,"v":10,"d":0.1},{"x":-0.88,"y":0.04,"v":3,"d":0.7},{"x":-0.74,"y":0.04,"v":4,"d":0.15},{"x":-0.67,"y":0.04,"v":2,"d":0.5},{"x":-0.54,"y":0.04,"v":4,"d":0.12},{"x":-0.4,"y":0.04,"v":3,"d":1.0},{"x":-0.34,"y":0.04,"v":1,"d":0.15},{"x":-0.27,"y":0.04,"v":3,"d":0.1},{"x":-0.2,"y":0.04,"v":4,"d":0.12},{"x":-0.07,"y":0.04,"v":3,"d":0.2},{"x":0.13,"y":0.04,"v":2,"d":0.12},{"x":0.2,"y":0.04,"v":4,"d":0.35},{"x":0.34,"y":0.04,"v":3,"d":0.1},{"x":0.54,"y":0.04,"v":3,"d":0.8},{"x":0.61,"y":0.04,"v":2,"d":0.15},{"x":0.74,"y":0.04,"v":3,"d":0.12},{"x":0.81,"y":0.04,"v":2,"d":1.0},{"x":0.88,"y":0.04,"v":4,"d":0.12},{"x":0.94,"y":0.04,"v":2,"d":0.15},
{"x":-1.01,"y":-0.03,"v":1,"d":0.6},{"x":-0.94,"y":-0.03,"v":3,"d":0.12},{"x":-0.81,"y":-0.03,"v":2,"d":0.15},{"x":-0.67,"y":-0.03,"v":3,"d":0.55},{"x":-0.61,"y":-0.03,"v":2,"d":1.0},{"x":-0.54,"y":-0.03,"v":3,"d":0.9},{"x":-0.4,"y":-0.03,"v":3,"d":0.95},{"x":-0.34,"y":-0.03,"v":3,"d":0.12},{"x":-0.2,"y":-0.03,"v":3,"d":0.15},{"x":-0.07,"y":-0.03,"v":2,"d":0.35},{"x":0,"y":-0.03,"v":4,"d":0.12},{"x":0.13,"y":-0.03,"v":3,"d":0.95},{"x":0.27,"y":-0.03,"v":2,"d":0.12},{"x":0.34,"y":-0.03,"v":3,"d":0.2},{"x":0.47,"y":-0.03,"v":3,"d":0.15},{"x":0.54,"y":-0.03,"v":2,"d":0.1},{"x":0.61,"y":-0.03,"v":3,"d":0.12},{"x":0.74,"y":-0.03,"v":4,"d":0.15},{"x":0.81,"y":-0.03,"v":3,"d":0.1},{"x":0.88,"y":-0.03,"v":2,"d":0.18},{"x":0.94,"y":-0.03,"v":3,"d":0.12},{"x":1.01,"y":-0.03,"v":2,"d":0.1},
{"x":-0.94,"y":-0.1,"v":5,"d":0.15},{"x":-0.81,"y":-0.1,"v":4,"d":0.12},{"x":-0.74,"y":-0.1,"v":3,"d":0.2},{"x":-0.61,"y":-0.1,"v":2,"d":0.15},{"x":-0.54,"y":-0.1,"v":4,"d":0.12},{"x":-0.4,"y":-0.1,"v":2,"d":0.1},{"x":-0.34,"y":-0.1,"v":3,"d":0.15},{"x":-0.27,"y":-0.1,"v":4,"d":0.12},{"x":-0.07,"y":-0.1,"v":6,"d":0.1},{"x":0,"y":-0.1,"v":4,"d":0.15},{"x":0.07,"y":-0.1,"v":6,"d":0.3},{"x":0.2,"y":-0.1,"v":3,"d":1.05},{"x":0.27,"y":-0.1,"v":2,"d":0.12},{"x":0.47,"y":-0.1,"v":3,"d":0.15},{"x":0.54,"y":-0.1,"v":5,"d":0.1},{"x":0.61,"y":-0.1,"v":3,"d":0.12},{"x":0.67,"y":-0.1,"v":6,"d":0.15},{"x":0.74,"y":-0.1,"v":3,"d":0.1},{"x":0.81,"y":-0.1,"v":4,"d":1.0},{"x":0.88,"y":-0.1,"v":7,"d":0.12},{"x":0.94,"y":-0.1,"v":2,"d":0.15},
{"x":-0.94,"y":-0.16,"v":2,"d":0.1},{"x":-0.88,"y":-0.16,"v":4,"d":0.12},{"x":-0.81,"y":-0.16,"v":3,"d":0.15},{"x":-0.67,"y":-0.16,"v":3,"d":0.1},{"x":-0.54,"y":-0.16,"v":3,"d":0.2},{"x":-0.4,"y":-0.16,"v":4,"d":0.12},{"x":-0.34,"y":-0.16,"v":3,"d":0.1},{"x":-0.2,"y":-0.16,"v":2,"d":1.05},{"x":-0.13,"y":-0.16,"v":4,"d":0.7},{"x":-0.07,"y":-0.16,"v":3,"d":0.55},{"x":0,"y":-0.16,"v":6,"d":0.12},{"x":0.07,"y":-0.16,"v":2,"d":0.2},{"x":0.2,"y":-0.16,"v":4,"d":0.1},{"x":0.27,"y":-0.16,"v":3,"d":0.3},{"x":0.47,"y":-0.16,"v":2,"d":0.12},{"x":0.54,"y":-0.16,"v":6,"d":0.15},{"x":0.61,"y":-0.16,"v":5,"d":0.1},{"x":0.67,"y":-0.16,"v":3,"d":0.18},{"x":0.74,"y":-0.16,"v":5,"d":0.12},{"x":0.81,"y":-0.16,"v":11,"d":0.15},{"x":0.88,"y":-0.16,"v":4,"d":0.7},
{"x":-0.81,"y":-0.23,"v":2,"d":0.55},{"x":-0.74,"y":-0.23,"v":3,"d":0.12},{"x":-0.67,"y":-0.23,"v":2,"d":0.15},{"x":-0.61,"y":-0.23,"v":4,"d":0.1},{"x":-0.54,"y":-0.23,"v":10,"d":0.12},{"x":-0.47,"y":-0.23,"v":3,"d":0.1},{"x":-0.34,"y":-0.23,"v":4,"d":0.15},{"x":-0.27,"y":-0.23,"v":3,"d":0.12},{"x":-0.13,"y":-0.23,"v":3,"d":0.1},{"x":-0.07,"y":-0.23,"v":2,"d":0.55},{"x":0.07,"y":-0.23,"v":3,"d":0.7},{"x":0.13,"y":-0.23,"v":4,"d":0.15},{"x":0.2,"y":-0.23,"v":2,"d":1.05},{"x":0.34,"y":-0.23,"v":3,"d":0.12},{"x":0.47,"y":-0.23,"v":2,"d":0.15},{"x":0.54,"y":-0.23,"v":3,"d":0.55},{"x":0.61,"y":-0.23,"v":4,"d":0.1},{"x":0.67,"y":-0.23,"v":3,"d":0.6},{"x":0.74,"y":-0.23,"v":2,"d":0.15},
{"x":-0.61,"y":-0.3,"v":2,"d":0.12},{"x":-0.47,"y":-0.3,"v":3,"d":0.6},{"x":-0.4,"y":-0.3,"v":5,"d":0.15},{"x":-0.34,"y":-0.3,"v":4,"d":0.75},{"x":-0.27,"y":-0.3,"v":3,"d":0.15},{"x":-0.13,"y":-0.3,"v":8,"d":0.12},{"x":-0.07,"y":-0.3,"v":8,"d":0.1},{"x":0.07,"y":-0.3,"v":4,"d":0.12},{"x":0.13,"y":-0.3,"v":2,"d":0.15},{"x":0.2,"y":-0.3,"v":1,"d":1.05},{"x":0.47,"y":-0.3,"v":3,"d":0.2},{"x":0.54,"y":-0.3,"v":2,"d":0.15},{"x":0.61,"y":-0.3,"v":2,"d":0.1},
{"x":-0.34,"y":-0.36,"v":1,"d":0.12},{"x":0.07,"y":-0.36,"v":2,"d":0.15},{"x":0.13,"y":-0.36,"v":1,"d":0.1}],
"heatD":[{"x":-0.45,"y":0.29,"v":2,"d":0.1},{"x":-0.3,"y":0.29,"v":3,"d":0.3},{"x":-0.15,"y":0.29,"v":3,"d":0.15},{"x":-0.07,"y":0.29,"v":4,"d":1.05},{"x":0,"y":0.29,"v":3,"d":0.95},{"x":0.07,"y":0.29,"v":4,"d":0.2},{"x":0.15,"y":0.29,"v":6,"d":0.3},{"x":0.22,"y":0.29,"v":16,"d":0.15},{"x":0.3,"y":0.29,"v":5,"d":0.25},{"x":0.37,"y":0.29,"v":4,"d":0.2},{"x":0.45,"y":0.29,"v":3,"d":0.8},{"x":0.52,"y":0.29,"v":2,"d":0.2},{"x":-0.59,"y":0.29,"v":1,"d":1.0},
{"x":-0.89,"y":0.22,"v":3,"d":0.25},{"x":-0.82,"y":0.22,"v":4,"d":0.2},{"x":-0.74,"y":0.22,"v":5,"d":0.15},{"x":-0.67,"y":0.22,"v":7,"d":0.2},{"x":-0.59,"y":0.22,"v":6,"d":0.15},{"x":-0.52,"y":0.22,"v":7,"d":0.2},{"x":-0.45,"y":0.22,"v":10,"d":0.15},{"x":-0.37,"y":0.22,"v":11,"d":0.25},{"x":-0.3,"y":0.22,"v":8,"d":0.18},{"x":-0.22,"y":0.22,"v":6,"d":0.3},{"x":-0.15,"y":0.22,"v":8,"d":0.2},{"x":-0.07,"y":0.22,"v":9,"d":0.2},{"x":0,"y":0.22,"v":14,"d":0.3},{"x":0.07,"y":0.22,"v":20,"d":0.18},{"x":0.15,"y":0.22,"v":24,"d":0.25},{"x":0.22,"y":0.22,"v":18,"d":0.2},{"x":0.3,"y":0.22,"v":11,"d":0.3},{"x":0.37,"y":0.22,"v":8,"d":0.2},{"x":0.45,"y":0.22,"v":7,"d":0.35},{"x":0.52,"y":0.22,"v":6,"d":0.2},{"x":0.59,"y":0.22,"v":5,"d":0.3},{"x":0.67,"y":0.22,"v":4,"d":0.18},{"x":0.74,"y":0.22,"v":5,"d":0.7},{"x":0.82,"y":0.22,"v":4,"d":0.3},{"x":0.89,"y":0.22,"v":3,"d":0.2},
{"x":-1.04,"y":0.15,"v":2,"d":0.15},{"x":-0.97,"y":0.15,"v":4,"d":0.3},{"x":-0.89,"y":0.15,"v":7,"d":0.2},{"x":-0.82,"y":0.15,"v":8,"d":0.25},{"x":-0.74,"y":0.15,"v":12,"d":0.15},{"x":-0.67,"y":0.15,"v":13,"d":0.3},{"x":-0.59,"y":0.15,"v":10,"d":0.2},{"x":-0.52,"y":0.15,"v":7,"d":0.35},{"x":-0.45,"y":0.15,"v":9,"d":0.18},{"x":-0.37,"y":0.15,"v":8,"d":0.25},{"x":-0.3,"y":0.15,"v":7,"d":0.2},{"x":-0.22,"y":0.15,"v":9,"d":0.3},{"x":-0.15,"y":0.15,"v":11,"d":0.2},{"x":-0.07,"y":0.15,"v":14,"d":1.0},{"x":0,"y":0.15,"v":15,"d":0.4},{"x":0.07,"y":0.15,"v":13,"d":0.25},{"x":0.15,"y":0.15,"v":22,"d":0.3},{"x":0.22,"y":0.15,"v":11,"d":0.2},{"x":0.3,"y":0.15,"v":9,"d":0.35},{"x":0.37,"y":0.15,"v":7,"d":0.25},{"x":0.45,"y":0.15,"v":8,"d":0.85},{"x":0.52,"y":0.15,"v":6,"d":0.3},{"x":0.59,"y":0.15,"v":7,"d":0.25},{"x":0.67,"y":0.15,"v":6,"d":0.2},{"x":0.74,"y":0.15,"v":5,"d":0.3},{"x":0.82,"y":0.15,"v":7,"d":0.55},{"x":0.89,"y":0.15,"v":5,"d":0.2},{"x":0.97,"y":0.15,"v":3,"d":0.15},
{"x":-1.11,"y":0.07,"v":2,"d":0.1},{"x":-1.04,"y":0.07,"v":4,"d":0.2},{"x":-0.97,"y":0.07,"v":6,"d":0.15},{"x":-0.89,"y":0.07,"v":5,"d":0.25},{"x":-0.82,"y":0.07,"v":9,"d":0.2},{"x":-0.74,"y":0.07,"v":13,"d":1.05},{"x":-0.67,"y":0.07,"v":12,"d":0.15},{"x":-0.59,"y":0.07,"v":7,"d":0.3},{"x":-0.52,"y":0.07,"v":6,"d":0.2},{"x":-0.45,"y":0.07,"v":8,"d":0.3},{"x":-0.37,"y":0.07,"v":6,"d":0.25},{"x":-0.3,"y":0.07,"v":5,"d":0.35},{"x":-0.22,"y":0.07,"v":7,"d":0.3},{"x":-0.15,"y":0.07,"v":9,"d":0.5},{"x":-0.07,"y":0.07,"v":11,"d":0.9},{"x":0,"y":0.07,"v":12,"d":0.3},{"x":0.07,"y":0.07,"v":14,"d":0.35},{"x":0.15,"y":0.07,"v":12,"d":0.25},{"x":0.22,"y":0.07,"v":8,"d":0.3},{"x":0.3,"y":0.07,"v":6,"d":0.4},{"x":0.37,"y":0.07,"v":5,"d":0.3},{"x":0.45,"y":0.07,"v":7,"d":0.9},{"x":0.52,"y":0.07,"v":9,"d":0.5},{"x":0.59,"y":0.07,"v":6,"d":0.55},{"x":0.67,"y":0.07,"v":8,"d":0.3},{"x":0.74,"y":0.07,"v":7,"d":0.25},{"x":0.82,"y":0.07,"v":6,"d":0.85},{"x":0.89,"y":0.07,"v":5,"d":0.2},{"x":0.97,"y":0.07,"v":4,"d":0.6},{"x":1.04,"y":0.07,"v":3,"d":0.3},
{"x":-1.11,"y":0,"v":3,"d":0.1},{"x":-1.04,"y":0,"v":5,"d":0.15},{"x":-0.97,"y":0,"v":7,"d":0.2},{"x":-0.89,"y":0,"v":6,"d":0.15},{"x":-0.82,"y":0,"v":8,"d":0.3},{"x":-0.74,"y":0,"v":10,"d":0.2},{"x":-0.67,"y":0,"v":9,"d":0.25},{"x":-0.59,"y":0,"v":5,"d":0.35},{"x":-0.52,"y":0,"v":7,"d":1.05},{"x":-0.45,"y":0,"v":6,"d":0.2},{"x":-0.37,"y":0,"v":8,"d":0.85},{"x":-0.3,"y":0,"v":6,"d":0.25},{"x":-0.22,"y":0,"v":4,"d":0.5},{"x":-0.15,"y":0,"v":5,"d":0.45},{"x":-0.07,"y":0,"v":9,"d":0.75},{"x":0,"y":0,"v":7,"d":0.55},{"x":0.07,"y":0,"v":10,"d":0.4},{"x":0.15,"y":0,"v":8,"d":0.3},{"x":0.22,"y":0,"v":6,"d":0.55},{"x":0.3,"y":0,"v":7,"d":0.25},{"x":0.37,"y":0,"v":9,"d":0.35},{"x":0.45,"y":0,"v":5,"d":0.6},{"x":0.52,"y":0,"v":8,"d":0.55},{"x":0.59,"y":0,"v":7,"d":0.3},{"x":0.67,"y":0,"v":5,"d":0.2},{"x":0.74,"y":0,"v":7,"d":1.05},{"x":0.82,"y":0,"v":9,"d":0.35},{"x":0.89,"y":0,"v":6,"d":0.85},{"x":0.97,"y":0,"v":4,"d":0.15},{"x":1.04,"y":0,"v":3,"d":0.25},{"x":1.11,"y":0,"v":2,"d":0.15},
{"x":-1.11,"y":-0.07,"v":2,"d":0.15},{"x":-1.04,"y":-0.07,"v":4,"d":0.1},{"x":-0.97,"y":-0.07,"v":6,"d":0.15},{"x":-0.89,"y":-0.07,"v":7,"d":0.6},{"x":-0.82,"y":-0.07,"v":5,"d":0.7},{"x":-0.74,"y":-0.07,"v":8,"d":0.5},{"x":-0.67,"y":-0.07,"v":6,"d":0.15},{"x":-0.59,"y":-0.07,"v":9,"d":1.0},{"x":-0.52,"y":-0.07,"v":7,"d":0.25},{"x":-0.45,"y":-0.07,"v":5,"d":0.3},{"x":-0.37,"y":-0.07,"v":6,"d":0.55},{"x":-0.3,"y":-0.07,"v":7,"d":0.4},{"x":-0.22,"y":-0.07,"v":8,"d":0.85},{"x":-0.15,"y":-0.07,"v":5,"d":0.55},{"x":-0.07,"y":-0.07,"v":7,"d":0.4},{"x":0,"y":-0.07,"v":9,"d":0.25},{"x":0.07,"y":-0.07,"v":13,"d":0.6},{"x":0.15,"y":-0.07,"v":10,"d":0.25},{"x":0.22,"y":-0.07,"v":8,"d":0.3},{"x":0.3,"y":-0.07,"v":6,"d":0.65},{"x":0.37,"y":-0.07,"v":7,"d":0.25},{"x":0.45,"y":-0.07,"v":6,"d":0.3},{"x":0.52,"y":-0.07,"v":8,"d":0.7},{"x":0.59,"y":-0.07,"v":9,"d":0.55},{"x":0.67,"y":-0.07,"v":7,"d":0.35},{"x":0.74,"y":-0.07,"v":8,"d":0.55},{"x":0.82,"y":-0.07,"v":7,"d":1.0},{"x":0.89,"y":-0.07,"v":5,"d":0.3},{"x":0.97,"y":-0.07,"v":5,"d":0.85},{"x":1.04,"y":-0.07,"v":3,"d":0.2},
{"x":-1.04,"y":-0.15,"v":3,"d":0.15},{"x":-0.97,"y":-0.15,"v":6,"d":0.1},{"x":-0.89,"y":-0.15,"v":8,"d":0.15},{"x":-0.82,"y":-0.15,"v":7,"d":0.85},{"x":-0.74,"y":-0.15,"v":9,"d":0.2},{"x":-0.67,"y":-0.15,"v":6,"d":1.05},{"x":-0.59,"y":-0.15,"v":8,"d":0.25},{"x":-0.52,"y":-0.15,"v":7,"d":0.35},{"x":-0.45,"y":-0.15,"v":9,"d":0.2},{"x":-0.37,"y":-0.15,"v":7,"d":0.3},{"x":-0.3,"y":-0.15,"v":10,"d":0.85},{"x":-0.22,"y":-0.15,"v":8,"d":0.4},{"x":-0.15,"y":-0.15,"v":7,"d":0.25},{"x":-0.07,"y":-0.15,"v":6,"d":0.55},{"x":0,"y":-0.15,"v":8,"d":0.3},{"x":0.07,"y":-0.15,"v":14,"d":0.25},{"x":0.15,"y":-0.15,"v":9,"d":0.5},{"x":0.22,"y":-0.15,"v":7,"d":0.3},{"x":0.3,"y":-0.15,"v":6,"d":0.2},{"x":0.37,"y":-0.15,"v":8,"d":0.35},{"x":0.45,"y":-0.15,"v":7,"d":0.6},{"x":0.52,"y":-0.15,"v":6,"d":0.3},{"x":0.59,"y":-0.15,"v":8,"d":0.7},{"x":0.67,"y":-0.15,"v":10,"d":0.25},{"x":0.74,"y":-0.15,"v":9,"d":0.55},{"x":0.82,"y":-0.15,"v":8,"d":0.7},{"x":0.89,"y":-0.15,"v":7,"d":0.6},{"x":0.97,"y":-0.15,"v":6,"d":0.2},{"x":1.04,"y":-0.15,"v":3,"d":0.15},
{"x":-0.97,"y":-0.22,"v":3,"d":0.1},{"x":-0.89,"y":-0.22,"v":5,"d":0.2},{"x":-0.82,"y":-0.22,"v":7,"d":0.15},{"x":-0.74,"y":-0.22,"v":9,"d":0.55},{"x":-0.67,"y":-0.22,"v":10,"d":0.3},{"x":-0.59,"y":-0.22,"v":8,"d":0.2},{"x":-0.52,"y":-0.22,"v":6,"d":0.3},{"x":-0.45,"y":-0.22,"v":8,"d":0.25},{"x":-0.37,"y":-0.22,"v":7,"d":0.4},{"x":-0.3,"y":-0.22,"v":11,"d":0.2},{"x":-0.22,"y":-0.22,"v":9,"d":0.3},{"x":-0.15,"y":-0.22,"v":10,"d":0.5},{"x":-0.07,"y":-0.22,"v":8,"d":0.6},{"x":0,"y":-0.22,"v":7,"d":0.4},{"x":0.07,"y":-0.22,"v":9,"d":0.3},{"x":0.15,"y":-0.22,"v":11,"d":0.25},{"x":0.22,"y":-0.22,"v":8,"d":0.35},{"x":0.3,"y":-0.22,"v":7,"d":0.2},{"x":0.37,"y":-0.22,"v":5,"d":0.3},{"x":0.45,"y":-0.22,"v":6,"d":0.25},{"x":0.52,"y":-0.22,"v":5,"d":0.35},{"x":0.59,"y":-0.22,"v":7,"d":0.3},{"x":0.67,"y":-0.22,"v":15,"d":0.55},{"x":0.74,"y":-0.22,"v":16,"d":0.2},{"x":0.82,"y":-0.22,"v":12,"d":0.3},{"x":0.89,"y":-0.22,"v":10,"d":0.25},{"x":0.97,"y":-0.22,"v":6,"d":0.3},
{"x":-0.82,"y":-0.29,"v":3,"d":0.15},{"x":-0.74,"y":-0.29,"v":4,"d":0.6},{"x":-0.67,"y":-0.29,"v":5,"d":0.2},{"x":-0.59,"y":-0.29,"v":3,"d":0.15},{"x":-0.52,"y":-0.29,"v":2,"d":0.3},{"x":-0.37,"y":-0.29,"v":3,"d":0.2},{"x":-0.3,"y":-0.29,"v":4,"d":0.15},{"x":-0.22,"y":-0.29,"v":3,"d":0.25},{"x":0.3,"y":-0.29,"v":2,"d":0.15},{"x":0.45,"y":-0.29,"v":3,"d":0.25},{"x":0.52,"y":-0.29,"v":3,"d":0.2},{"x":0.59,"y":-0.29,"v":4,"d":0.3},{"x":0.67,"y":-0.29,"v":5,"d":0.15},{"x":0.74,"y":-0.29,"v":4,"d":0.2},{"x":0.82,"y":-0.29,"v":4,"d":0.6},{"x":0.89,"y":-0.29,"v":5,"d":1.05},{"x":0.97,"y":-0.29,"v":3,"d":1.05}]
},
"vconcat":[
{"hconcat":[
{"width":260,"height":195,"layer":[
{"data":{"values":[{"g":-1},{"g":-0.5},{"g":0},{"g":0.5},{"g":1}]},"mark":{"type":"rule","color":"#ddd","strokeWidth":1},"encoding":{"x":{"field":"g","type":"quantitative","scale":{"domain":[-1.838,1.985],"nice":false,"zero":false},"axis":{"offset":-62,"values":[-1,-0.5,0,0.5,1],"format":".1f","ticks":false,"labelPadding":5}},"y":{"datum":-0.588,"scale":{"domain":[-1.5,1.368],"nice":false,"zero":false},"axis":{"offset":-45,"values":[-0.5,0,0.5],"format":".1f","ticks":false,"labelPadding":4}},"y2":{"datum":0.544}}},
{"data":{"values":[{"g":-0.5},{"g":0},{"g":0.5}]},"mark":{"type":"rule","color":"#ddd","strokeWidth":1},"encoding":{"y":{"field":"g","type":"quantitative"},"x":{"datum":-1.176},"x2":{"datum":1.206}}},
{"data":{"name":"scatA"},"mark":{"type":"circle","size":4,"color":"#d4146e","opacity":0.9},"encoding":{"x":{"field":"x","type":"quantitative"},"y":{"field":"y","type":"quantitative"}}},
{"mark":{"type":"rect","fill":"transparent","stroke":"#222","strokeWidth":1.5},"encoding":{"x":{"datum":-1.176},"x2":{"datum":1.206},"y":{"datum":-0.588},"y2":{"datum":0.544}}},
{"mark":{"type":"text","align":"left","fontSize":17,"fontWeight":"bold","color":"#000"},"encoding":{"x":{"datum":-1.809},"y":{"datum":1.176},"text":{"value":"a"}}},
{"mark":{"type":"text","align":"left","fontSize":11,"fontWeight":"bold"},"encoding":{"x":{"datum":-1.338},"y":{"datum":1.132},"text":{"value":"mEos3.2-Prli42"}}},
{"mark":{"type":"text","align":"left"},"encoding":{"x":{"datum":-1.176},"y":{"datum":0.779},"text":{"value":"Localization of 1620 starting positions"}}},
{"mark":{"type":"text"},"encoding":{"x":{"datum":0.0},"y":{"datum":-1.06},"text":{"value":"(µm)"}}}
]},
{"width":240,"height":195,"layer":[
{"data":{"values":[{"a":0,"b":0.0353,"h":6.0},{"a":0.0353,"b":0.0706,"h":8.7},{"a":0.0706,"b":0.1059,"h":5.2},{"a":0.1059,"b":0.1412,"h":1.25},{"a":0.1412,"b":0.1765,"h":0.65},{"a":0.1765,"b":0.2118,"h":0.3},{"a":0.2118,"b":0.2471,"h":0.3},{"a":0.2471,"b":0.2824,"h":0.25},{"a":0.2824,"b":0.3176,"h":0.2},{"a":0.3176,"b":0.3529,"h":0.35},{"a":0.3529,"b":0.3882,"h":0.4},{"a":0.3882,"b":0.4235,"h":0.45},{"a":0.4235,"b":0.4588,"h":0.5},{"a":0.4588,"b":0.4941,"h":0.55},{"a":0.4941,"b":0.5294,"h":0.6},{"a":0.5294,"b":0.5647,"h":0.35},{"a":0.5647,"b":0.6,"h":0.4}]},"mark":{"type":"rect","fill":"#1f77b4","stroke":"#fff","strokeWidth":0.8},"encoding":{"x":{"field":"a","type":"quantitative","scale":{"domain":[-0.2108,0.762],"nice":false,"zero":false},"axis":{"offset":-52,"values":[0,0.2,0.4,0.6],"format":".1f"}},"x2":{"field":"b"},"y":{"field":"h","type":"quantitative","scale":{"domain":[-4.16,11.44],"nice":false,"zero":false},"axis":{"offset":-44,"values":[0,2,4,6,8,10],"format":"d"}},"y2":{"datum":0}}},
{"data":{"values":[{"x":0,"y":0},{"x":0.01,"y":3.47},{"x":0.02,"y":6.44},{"x":0.03,"y":8.54},{"x":0.04,"y":9.58},{"x":0.045,"y":9.7},{"x":0.05,"y":9.6},{"x":0.06,"y":8.77},{"x":0.07,"y":7.42},{"x":0.08,"y":5.86},{"x":0.09,"y":4.33},{"x":0.1,"y":3.02},{"x":0.11,"y":1.97},{"x":0.12,"y":1.25},{"x":0.13,"y":0.8},{"x":0.14,"y":0.52},{"x":0.16,"y":0.3},{"x":0.18,"y":0.25},{"x":0.2,"y":0.25},{"x":0.3,"y":0.35},{"x":0.4,"y":0.5},{"x":0.5,"y":0.65},{"x":0.6,"y":0.8}]},"mark":{"type":"line","color":"#ee1c25","strokeWidth":1.6},"encoding":{"x":{"field":"x","type":"quantitative"},"y":{"field":"y","type":"quantitative"}}},
{"mark":{"type":"rect","fill":"transparent","stroke":"#222","strokeWidth":1.5},"encoding":{"x":{"datum":-0.0324},"x2":{"datum":0.628},"y":{"datum":0},"y2":{"datum":10.24}}},
{"mark":{"type":"text","align":"left","fontSize":11},"encoding":{"x":{"datum":0.231},"y":{"datum":8.56},"text":{"value":"Dʟ = 0.11 µm²/s"}}},
{"mark":{"type":"text","fontSize":11},"encoding":{"x":{"datum":0.296},"y":{"datum":-1.92},"text":{"value":"Displacement (µm)"}}},
{"mark":{"type":"text","fontSize":11.2,"angle":270},"encoding":{"x":{"datum":-0.146},"y":{"datum":5.28},"text":{"value":"Probability density"}}}
]},
{"vconcat":[
{"width":298,"height":95,"layer":[
{"mark":{"type":"rect","fill":"#440154","stroke":"#777","strokeWidth":1},"encoding":{"x":{"datum":-1.086,"scale":{"domain":[-1.675,1.982],"nice":false,"zero":false},"axis":{"offset":-19,"values":[-1,-0.5,0,0.5,1],"format":".1f"}},"x2":{"datum":1.061},"y":{"datum":-0.41,"scale":{"domain":[-0.639,0.506],"nice":false,"zero":false},"axis":{"offset":-48,"values":[-0.2,0,0.2],"format":".1f"}},"y2":{"datum":0.349}}},
{"data":{"name":"heatA"},"mark":{"type":"rect","width":5.5,"height":5.5},"encoding":{"x":{"field":"x","type":"quantitative"},"y":{"field":"y","type":"quantitative"},"color":{"field":"v","type":"quantitative","scale":{"scheme":"viridis","domain":[0,12]},"legend":{"title":null,"orient":"none","legendX":234,"legendY":13,"gradientLength":64,"gradientThickness":5,"values":[0,5,10]}}}},
{"mark":{"type":"text","fontSize":11.7},"encoding":{"x":{"datum":0.052},"y":{"datum":0.43},"text":{"value":"Number of displacements"}}},
{"mark":{"type":"text"},"encoding":{"x":{"datum":0.2},"y":{"datum":-0.373},"text":{"value":"-0.4"}}}
]},
{"width":298,"height":100,"layer":[
{"mark":{"type":"rect","fill":"#000","stroke":"#777","strokeWidth":1},"encoding":{"x":{"datum":-1.098,"scale":{"domain":[-1.675,1.982],"nice":false,"zero":false},"axis":{"offset":-23,"values":[-1,-0.5,0,0.5,1],"format":".1f"}},"x2":{"datum":1.049},"y":{"datum":-0.406,"scale":{"domain":[-0.676,0.5],"nice":false,"zero":false},"axis":{"offset":-47,"values":[-0.2,0,0.2],"format":".1f"}},"y2":{"datum":0.335}}},
{"data":{"name":"heatA"},"mark":{"type":"rect","width":5.5,"height":5.5},"encoding":{"x":{"field":"x","type":"quantitative"},"y":{"field":"y","type":"quantitative"},"color":{"field":"d","type":"quantitative","scale":{"domain":[0,0.3,0.5625,1.125],"range":["#0000ff","#4a4aff","#ffffff","#ff0000"]},"legend":{"title":null,"orient":"none","legendX":234,"legendY":14,"gradientLength":63,"gradientThickness":5,"values":[0.25,0.5,0.75,1],"format":".2f"}}}},
{"mark":{"type":"text","fontSize":11.3},"encoding":{"x":{"datum":0.02},"y":{"datum":0.43},"text":{"value":"Diffusivity map"}}},
{"mark":{"type":"text","angle":270},"encoding":{"x":{"datum":1.785},"y":{"datum":0},"text":{"value":"Dʟ (µm²/s)"}}},
{"mark":{"type":"text","fontSize":10.5},"encoding":{"x":{"datum":0},"y":{"datum":-0.647},"text":{"value":"(µm)"}}}
]}
],"spacing":0,"bounds":"flush","resolve":{"scale":{"color":"independent"}}}
],"spacing":0,"bounds":"flush","resolve":{"scale":{"color":"independent"}}},
{"hconcat":[
{"width":195,"height":272,"layer":[
{"mark":{"type":"rule","strokeWidth":1.5},"encoding":{"x":{"datum":0.495,"scale":{"domain":[-0.752,5.039],"nice":false,"zero":false},"axis":{"offset":-60,"values":[1,2,3,4],"labelAngle":-25,"labelOffset":5,"labelFontSize":11.5,"labelExpr":"['Whole cell','Left pole','Middle','Right pole'][datum.value-1]"}},"x2":{"datum":4.505},"y":{"datum":1,"scale":{"type":"log","domain":[0.4499,16.8],"nice":false},"axis":{"offset":-42,"values":[1,2,3,4,5,6,7,8,9,10],"labelFontSize":11.5,"tickSize":{"condition":{"test":"datum.value==1||datum.value==5||datum.value==10","value":5},"value":3},"labelExpr":"datum.value==1||datum.value==5||datum.value==10?datum.value+'':''"}}}},
{"mark":{"type":"rule","strokeWidth":1.5},"encoding":{"x":{"datum":0.495},"y":{"datum":1},"y2":{"datum":12}}},
{"data":{"name":"boxB"},"mark":{"type":"rect","fill":"#2ee62e","stroke":"#777","strokeWidth":1},"encoding":{"x":{"field":"x0","type":"quantitative"},"x2":{"field":"x1"},"y":{"field":"q1","type":"quantitative"},"y2":{"field":"q3"}}},
{"data":{"name":"boxB"},"mark":{"type":"rule","color":"#000"},"encoding":{"x":{"field":"x0","type":"quantitative"},"x2":{"field":"xe"},"y":{"field":"med","type":"quantitative"}}},
{"data":{"name":"boxB"},"mark":{"type":"point","shape":"square","size":7,"color":"#000","strokeWidth":0.8},"encoding":{"x":{"field":"xm","type":"quantitative"},"y":{"field":"mean","type":"quantitative"}}},
{"data":{"name":"ptB"},"mark":{"type":"circle","size":6,"color":"#000","opacity":1},"encoding":{"x":{"field":"x","type":"quantitative"},"y":{"field":"y","type":"quantitative"}}},
{"data":{"values":[{"g":1,"o":0,"x":1.891,"y":11.27},{"g":1,"o":1,"x":1.891,"y":12},{"g":1,"o":2,"x":2.791,"y":12},{"g":1,"o":3,"x":2.791,"y":11.27},{"g":2,"o":0,"x":2.88,"y":11.27},{"g":2,"o":1,"x":2.88,"y":12},{"g":2,"o":2,"x":3.82,"y":12},{"g":2,"o":3,"x":3.82,"y":11.27}]},"mark":{"type":"line","color":"#333","strokeWidth":1.2},"encoding":{"x":{"field":"x","type":"quantitative"},"y":{"field":"y","type":"quantitative"},"detail":{"field":"g"},"order":{"field":"o"}}},
{"mark":{"type":"text","fontSize":10.5},"encoding":{"x":{"datum":2.42},"y":{"datum":13.1},"text":{"value":"p=0"}}},
{"mark":{"type":"text","fontSize":10.5},"encoding":{"x":{"datum":3.29},"y":{"datum":13.1},"text":{"value":"p=0"}}},
{"mark":{"type":"text","align":"left","fontSize":17,"fontWeight":"bold","color":"#000"},"encoding":{"x":{"datum":-0.69},"y":{"datum":15.0},"text":{"value":"b"}}},
{"mark":{"type":"text","align":"left","fontSize":11,"fontWeight":"bold"},"encoding":{"x":{"datum":0.33},"y":{"datum":14.4},"text":{"value":"mEos3.2"}}},
{"mark":{"type":"text","angle":270,"fontSize":11.5},"encoding":{"x":{"datum":-0.366},"y":{"datum":3.0},"text":{"value":"Dʟ (µm²/s)"}}}
]},
{"width":200,"height":272,"layer":[
{"mark":{"type":"rule","strokeWidth":1.5},"encoding":{"x":{"datum":0.48,"scale":{"domain":[-0.745,5.377],"nice":false,"zero":false},"axis":{"offset":-60,"values":[1,2,3,4],"labelAngle":-25,"labelOffset":5,"labelFontSize":11.5,"labelExpr":"['Whole cell','Left Pole','Middle','Right Pole'][datum.value-1]"}},"x2":{"datum":4.52},"y":{"datum":0.01,"scale":{"type":"log","domain":[0.002208,2.075],"nice":false},"axis":{"offset":-40,"values":[0.01,0.02,0.03,0.04,0.05,0.06,0.07,0.08,0.09,0.1,0.2,0.3,0.4,0.5,0.6,0.7,0.8,0.9,1],"labelFontSize":11.5,"tickSize":{"condition":{"test":"datum.value==0.01||datum.value==0.1||datum.value==1","value":5},"value":3},"labelExpr":"datum.value==0.01?'0.01':datum.value==0.1?'0.1':datum.value==1?'1':''"}}}},
{"mark":{"type":"rule","strokeWidth":1.5},"encoding":{"x":{"datum":0.48},"y":{"datum":0.01},"y2":{"datum":1}}},
{"data":{"name":"boxC"},"mark":{"type":"rect","fill":"#e8006c","stroke":"#888","strokeWidth":1},"encoding":{"x":{"field":"x0","type":"quantitative"},"x2":{"field":"x1"},"y":{"field":"q1","type":"quantitative"},"y2":{"field":"q3"}}},
{"data":{"name":"boxC"},"mark":{"type":"rule","color":"#000"},"encoding":{"x":{"field":"x0","type":"quantitative"},"x2":{"field":"xe"},"y":{"field":"med","type":"quantitative"}}},
{"data":{"name":"boxC"},"mark":{"type":"point","shape":"square","size":7,"color":"#000","strokeWidth":0.8},"encoding":{"x":{"field":"xm","type":"quantitative"},"y":{"field":"mean","type":"quantitative"}}},
{"data":{"name":"ptC"},"mark":{"type":"circle","size":6,"color":"#000","opacity":1},"encoding":{"x":{"field":"x","type":"quantitative"},"y":{"field":"y","type":"quantitative"}}},
{"data":{"values":[{"g":1,"o":0,"x":1.787,"y":0.299},{"g":1,"o":1,"x":1.787,"y":0.585},{"g":1,"o":2,"x":2.767,"y":0.585},{"g":1,"o":3,"x":2.767,"y":0.299},{"g":2,"o":0,"x":2.888,"y":0.2937},{"g":2,"o":1,"x":2.888,"y":0.375},{"g":2,"o":2,"x":3.816,"y":0.375},{"g":2,"o":3,"x":3.816,"y":0.2937}]},"mark":{"type":"line","color":"#333","strokeWidth":1.2},"encoding":{"x":{"field":"x","type":"quantitative"},"y":{"field":"y","type":"quantitative"},"detail":{"field":"g"},"order":{"field":"o"}}},
{"mark":{"type":"text","align":"left","fontSize":10},"encoding":{"x":{"datum":1.787},"y":{"datum":0.691},"text":{"value":"ns. p=0.17164"}}},
{"mark":{"type":"text","align":"left","fontSize":10},"encoding":{"x":{"datum":2.907},"y":{"datum":0.455},"text":{"value":"ns. p=0.54694"}}},
{"mark":{"type":"text","align":"left","fontSize":17,"fontWeight":"bold","color":"#000"},"encoding":{"x":{"datum":-0.255},"y":{"datum":1.675},"text":{"value":"c"}}},
{"mark":{"type":"text","align":"left","fontSize":11,"fontWeight":"bold"},"encoding":{"x":{"datum":1.01},"y":{"datum":1.74},"text":{"value":"mEos3.2-Prli42"}}}
]},
{"width":200,"height":272,"layer":[
{"mark":{"type":"rule","strokeWidth":1.5},"encoding":{"x":{"datum":0.248,"scale":{"domain":[-1.655,4.797],"nice":false,"zero":false},"axis":{"offset":-47,"values":[1,2,3,4],"labelAngle":-25,"labelOffset":5,"labelFontSize":11.5,"labelExpr":"['Whole cell','Left Pole','Middle','Right pole'][datum.value-1]"}},"x2":{"datum":4.506},"y":{"datum":0.01,"scale":{"type":"log","domain":[0.00309,2.96],"nice":false},"axis":{"offset":-59,"values":[0.01,0.02,0.03,0.04,0.05,0.06,0.07,0.08,0.09,0.1,0.2,0.3,0.4,0.5,0.6,0.7,0.8,0.9,1],"labelFontSize":11.5,"tickSize":{"condition":{"test":"datum.value==0.01||datum.value==0.1||datum.value==1","value":5},"value":3},"labelExpr":"datum.value==0.01?'0.01':datum.value==0.1?'0.1':datum.value==1?'1':''"}}}},
{"mark":{"type":"rule","strokeWidth":1.5},"encoding":{"x":{"datum":0.248},"y":{"datum":0.01},"y2":{"datum":1}}},
{"data":{"name":"boxE"},"mark":{"type":"rect","fill":"#109ce0","stroke":"#777","strokeWidth":1},"encoding":{"x":{"field":"x0","type":"quantitative"},"x2":{"field":"x1"},"y":{"field":"q1","type":"quantitative"},"y2":{"field":"q3"}}},
{"data":{"name":"boxE"},"mark":{"type":"rule","color":"#000"},"encoding":{"x":{"field":"x0","type":"quantitative"},"x2":{"field":"xe"},"y":{"field":"med","type":"quantitative"}}},
{"data":{"name":"boxE"},"mark":{"type":"point","shape":"square","size":7,"color":"#000","strokeWidth":0.8},"encoding":{"x":{"field":"xm","type":"quantitative"},"y":{"field":"mean","type":"quantitative"}}},
{"data":{"name":"ptE"},"mark":{"type":"circle","size":6,"color":"#000","opacity":1},"encoding":{"x":{"field":"x","type":"quantitative"},"y":{"field":"y","type":"quantitative"}}},
{"data":{"values":[{"g":1,"o":0,"x":1.816,"y":0.6626},{"g":1,"o":1,"x":1.816,"y":1.05},{"g":1,"o":2,"x":2.77,"y":1.05},{"g":1,"o":3,"x":2.77,"y":0.6626},{"g":2,"o":0,"x":2.884,"y":0.6626},{"g":2,"o":1,"x":2.884,"y":0.7636},{"g":2,"o":2,"x":3.83,"y":0.7636},{"g":2,"o":3,"x":3.83,"y":0.6626}]},"mark":{"type":"line","color":"#333","strokeWidth":1.2},"encoding":{"x":{"field":"x","type":"quantitative"},"y":{"field":"y","type":"quantitative"},"detail":{"field":"g"},"order":{"field":"o"}}},
{"mark":{"type":"text","align":"left","fontSize":10},"encoding":{"x":{"datum":1.86},"y":{"datum":1.32},"text":{"value":"ns. p=0.99557"}}},
{"mark":{"type":"text","align":"left","fontSize":10},"encoding":{"x":{"datum":2.94},"y":{"datum":0.904},"text":{"value":"ns. p=0.80997"}}},
{"mark":{"type":"text","align":"left","fontSize":17,"fontWeight":"bold","color":"#000"},"encoding":{"x":{"datum":-0.54},"y":{"datum":2.01},"text":{"value":"e"}}},
{"mark":{"type":"text","align":"left","fontSize":11,"fontWeight":"bold"},"encoding":{"x":{"datum":0.72},"y":{"datum":2.04},"text":{"value":"mEos3.2-RsbR1"}}}
]},
{"width":203,"height":272,"layer":[
{"mark":{"type":"rule","strokeWidth":1.5},"encoding":{"x":{"datum":0.226,"scale":{"domain":[-1.494,5.055],"nice":false,"zero":false},"axis":{"offset":-46,"values":[1,2,3,4],"labelFontSize":11,"labelExpr":"['pH 7.4','pH 5','pH 7.4','pH 5'][datum.value-1]"}},"x2":{"datum":4.506},"y":{"datum":0.01,"scale":{"type":"log","domain":[0.003177,2.918],"nice":false},"axis":{"offset":-53,"values":[0.01,0.02,0.03,0.04,0.05,0.06,0.07,0.08,0.09,0.1,0.2,0.3,0.4,0.5,0.6,0.7,0.8,0.9,1],"labelFontSize":11.5,"tickSize":{"condition":{"test":"datum.value==0.01||datum.value==0.1||datum.value==1","value":5},"value":3},"labelExpr":"datum.value==0.01?'0.01':datum.value==0.1?'0.1':datum.value==1?'1':''"}}}},
{"mark":{"type":"rule","strokeWidth":1.5},"encoding":{"x":{"datum":0.226},"y":{"datum":0.01},"y2":{"datum":1}}},
{"data":{"name":"boxF"},"mark":{"type":"rect","fill":"#109ce0","stroke":"#777","strokeWidth":1},"encoding":{"x":{"field":"x0","type":"quantitative"},"x2":{"field":"x1"},"y":{"field":"q1","type":"quantitative"},"y2":{"field":"q3"}}},
{"data":{"name":"boxF"},"mark":{"type":"rule","color":"#000"},"encoding":{"x":{"field":"x0","type":"quantitative"},"x2":{"field":"xe"},"y":{"field":"med","type":"quantitative"}}},
{"data":{"name":"boxF"},"mark":{"type":"point","shape":"square","size":7,"color":"#000","strokeWidth":0.8},"encoding":{"x":{"field":"xm","type":"quantitative"},"y":{"field":"mean","type":"quantitative"}}},
{"data":{"name":"ptF"},"mark":{"type":"circle","size":6,"color":"#000","opacity":1},"encoding":{"x":{"field":"x","type":"quantitative"},"y":{"field":"y","type":"quantitative"}}},
{"data":{"values":[{"g":1,"o":0,"x":0.861,"y":1.33},{"g":1,"o":1,"x":0.861,"y":1.52},{"g":1,"o":2,"x":2.83,"y":1.52},{"g":1,"o":3,"x":2.83,"y":1.33},{"g":2,"o":0,"x":0.861,"y":0.74},{"g":2,"o":1,"x":0.861,"y":0.8475},{"g":2,"o":2,"x":1.83,"y":0.8475},{"g":2,"o":3,"x":1.83,"y":0.74},{"g":3,"o":0,"x":2.83,"y":0.74},{"g":3,"o":1,"x":2.83,"y":0.8475},{"g":3,"o":2,"x":3.77,"y":0.8475},{"g":3,"o":3,"x":3.77,"y":0.74}]},"mark":{"type":"line","color":"#333","strokeWidth":1.2},"encoding":{"x":{"field":"x","type":"quantitative"},"y":{"field":"y","type":"quantitative"},"detail":{"field":"g"},"order":{"field":"o"}}},
{"mark":{"type":"text","fontSize":10.5},"encoding":{"x":{"datum":1.82},"y":{"datum":1.78},"text":{"value":"p=0"}}},
{"mark":{"type":"text","fontSize":10.5},"encoding":{"x":{"datum":1.38},"y":{"datum":1.01},"text":{"value":"p=0.00006"}}},
{"mark":{"type":"text","fontSize":10.5},"encoding":{"x":{"datum":3.27},"y":{"datum":1.01},"text":{"value":"p=0"}}},
{"mark":{"type":"text","align":"left","fontSize":17,"fontWeight":"bold","color":"#000"},"encoding":{"x":{"datum":-0.75},"y":{"datum":1.905},"text":{"value":"f"}}},
{"mark":{"type":"rule","color":"#555","strokeWidth":1.2},"encoding":{"x":{"datum":0.42},"x2":{"datum":2.355},"y":{"datum":0.00595}}},
{"mark":{"type":"rule","color":"#555","strokeWidth":1.2},"encoding":{"x":{"datum":2.75},"x2":{"datum":4.45},"y":{"datum":0.00595}}},
{"mark":{"type":"text","fontStyle":"italic","fontSize":11},"encoding":{"x":{"datum":1.387},"y":{"datum":0.0049},"text":{"value":"WT"}}},
{"mark":{"type":"text","fontStyle":"italic","fontSize":11},"encoding":{"x":{"datum":3.59},"y":{"datum":0.0049},"text":{"value":"Δprli42"}}}
]}
],"spacing":0,"bounds":"flush"},
{"hconcat":[
{"width":270,"height":180,"layer":[
{"data":{"values":[{"g":-1},{"g":-0.5},{"g":0},{"g":0.5},{"g":1}]},"mark":{"type":"rule","color":"#ddd","strokeWidth":1},"encoding":{"x":{"field":"g","type":"quantitative","scale":{"domain":[-1.986,1.871],"nice":false,"zero":false},"axis":{"offset":-50,"values":[-1,-0.5,0,0.5,1],"format":".1f","ticks":false,"labelPadding":5}},"y":{"datum":-0.572,"scale":{"domain":[-1.297,1.312],"nice":false,"zero":false},"axis":{"offset":-43,"values":[-0.5,0,0.5],"format":".1f","ticks":false,"labelPadding":4}},"y2":{"datum":0.558}}},
{"data":{"values":[{"g":-0.5},{"g":0},{"g":0.5}]},"mark":{"type":"rule","color":"#ddd","strokeWidth":1},"encoding":{"y":{"field":"g","type":"quantitative"},"x":{"datum":-1.371},"x2":{"datum":1.386}}},
{"data":{"name":"scatD"},"mark":{"type":"circle","size":7,"color":"#1583b3","opacity":0.8},"encoding":{"x":{"field":"x","type":"quantitative"},"y":{"field":"y","type":"quantitative"}}},
{"mark":{"type":"rect","fill":"transparent","stroke":"#222","strokeWidth":1.5},"encoding":{"x":{"datum":-1.371},"x2":{"datum":1.386},"y":{"datum":-0.572},"y2":{"datum":0.558}}},
{"mark":{"type":"text","align":"left","fontSize":17,"fontWeight":"bold","color":"#000"},"encoding":{"x":{"datum":-1.914},"y":{"datum":1.109},"text":{"value":"d"}}},
{"mark":{"type":"text","align":"left","fontSize":11,"fontWeight":"bold"},"encoding":{"x":{"datum":-1.461},"y":{"datum":1.08},"text":{"value":"mEos3.2-RsbR1"}}},
{"mark":{"type":"text","align":"left"},"encoding":{"x":{"datum":-1.371},"y":{"datum":0.746},"text":{"value":"Localization of 3349 starting positions"}}},
{"mark":{"type":"text"},"encoding":{"x":{"datum":0.03},"y":{"datum":-0.945},"text":{"value":"(µm)"}}}
]},
{"width":230,"height":180,"layer":[
{"data":{"values":[{"a":0,"b":0.0316,"h":3.8},{"a":0.0316,"b":0.0632,"h":7.65},{"a":0.0632,"b":0.0947,"h":7.05},{"a":0.0947,"b":0.1263,"h":3.7},{"a":0.1263,"b":0.1579,"h":2.2},{"a":0.1579,"b":0.1895,"h":1.4},{"a":0.1895,"b":0.2211,"h":0.95},{"a":0.2211,"b":0.2526,"h":0.6},{"a":0.2526,"b":0.2842,"h":0.3},{"a":0.2842,"b":0.3158,"h":0.3},{"a":0.3158,"b":0.3474,"h":0.45},{"a":0.3474,"b":0.3789,"h":0.35},{"a":0.3789,"b":0.4105,"h":0.35},{"a":0.4105,"b":0.4421,"h":0.35},{"a":0.4421,"b":0.4737,"h":0.2},{"a":0.4737,"b":0.5053,"h":0.3},{"a":0.5053,"b":0.5368,"h":0.3},{"a":0.5368,"b":0.5684,"h":0.3},{"a":0.5684,"b":0.6,"h":0.15}]},"mark":{"type":"rect","fill":"#1f77b4","stroke":"#fff","strokeWidth":0.8},"encoding":{"x":{"field":"a","type":"quantitative","scale":{"domain":[-0.1824,0.75],"nice":false,"zero":false},"axis":{"offset":-39,"values":[0,0.2,0.4,0.6],"format":".1f"}},"x2":{"field":"b"},"y":{"field":"h","type":"quantitative","scale":{"domain":[-2.5,9.04],"nice":false,"zero":false},"axis":{"offset":-38,"values":[0,2,4,6,8],"format":"d"}},"y2":{"datum":0}}},
{"data":{"values":[{"x":0,"y":0},{"x":0.01,"y":1.92},{"x":0.02,"y":3.7},{"x":0.03,"y":5.24},{"x":0.04,"y":6.42},{"x":0.05,"y":7.2},{"x":0.06,"y":7.6},{"x":0.065,"y":7.75},{"x":0.07,"y":7.62},{"x":0.08,"y":7.27},{"x":0.09,"y":6.7},{"x":0.1,"y":5.95},{"x":0.12,"y":4.24},{"x":0.14,"y":2.66},{"x":0.16,"y":1.49},{"x":0.18,"y":0.95},{"x":0.2,"y":0.54},{"x":0.22,"y":0.35},{"x":0.25,"y":0.25},{"x":0.3,"y":0.27},{"x":0.4,"y":0.35},{"x":0.5,"y":0.45},{"x":0.6,"y":0.55}]},"mark":{"type":"line","color":"#ee1c25","strokeWidth":1.6},"encoding":{"x":{"field":"x","type":"quantitative"},"y":{"field":"y","type":"quantitative"}}},
{"mark":{"type":"rect","fill":"transparent","stroke":"#222","strokeWidth":1.5},"encoding":{"x":{"datum":-0.0284},"x2":{"datum":0.628},"y":{"datum":0},"y2":{"datum":8.14}}},
{"mark":{"type":"text","align":"left","fontSize":11},"encoding":{"x":{"datum":0.234},"y":{"datum":6.69},"text":{"value":"Dʟ = 0.21 µm²/s"}}},
{"mark":{"type":"text","fontSize":11},"encoding":{"x":{"datum":0.288},"y":{"datum":-1.69},"text":{"value":"Displacement (µm)"}}},
{"mark":{"type":"text","fontSize":11.2,"angle":270},"encoding":{"x":{"datum":-0.138},"y":{"datum":4.12},"text":{"value":"Probability density"}}}
]},
{"vconcat":[
{"width":298,"height":80,"layer":[
{"mark":{"type":"rect","fill":"#440154","stroke":"#777","strokeWidth":1},"encoding":{"x":{"datum":-1.257,"scale":{"domain":[-1.905,2.122],"nice":false,"zero":false},"axis":{"offset":-13,"values":[-1,-0.5,0,0.5,1],"format":".1f"}},"x2":{"datum":1.243},"y":{"datum":-0.332,"scale":{"domain":[-0.504,0.577],"nice":false,"zero":false},"axis":{"offset":-48,"values":[-0.25,0,0.25],"labelExpr":"datum.value==0?'0.0':format(datum.value,'.2f')"}},"y2":{"datum":0.32}}},
{"data":{"name":"heatD"},"mark":{"type":"rect","width":5.5,"height":5.5},"encoding":{"x":{"field":"x","type":"quantitative"},"y":{"field":"y","type":"quantitative"},"color":{"field":"v","type":"quantitative","scale":{"scheme":"viridis","domain":[0,25]},"legend":{"title":null,"orient":"none","legendX":246,"legendY":10,"gradientLength":66,"gradientThickness":5,"values":[0,10,20]}}}},
{"mark":{"type":"text","fontSize":11.7},"encoding":{"x":{"datum":0.095},"y":{"datum":0.419},"text":{"value":"Number of displacements"}}}
]},
{"width":298,"height":100,"layer":[
{"mark":{"type":"rect","fill":"#000","stroke":"#777","strokeWidth":1},"encoding":{"x":{"datum":-1.259,"scale":{"domain":[-1.917,2.083],"nice":false,"zero":false},"axis":{"offset":-31,"values":[-1,-0.5,0,0.5,1],"format":".1f"}},"x2":{"datum":1.238},"y":{"datum":-0.337,"scale":{"domain":[-0.759,0.604],"nice":false,"zero":false},"axis":{"offset":-49,"values":[-0.25,0,0.25],"labelExpr":"datum.value==0?'0.0':format(datum.value,'.2f')"}},"y2":{"datum":0.317}}},
{"data":{"name":"heatD"},"mark":{"type":"rect","width":5.5,"height":5.5},"encoding":{"x":{"field":"x","type":"quantitative"},"y":{"field":"y","type":"quantitative"},"color":{"field":"d","type":"quantitative","scale":{"domain":[0,0.3,0.55,1.1],"range":["#0000ff","#4a4aff","#ffffff","#ff0000"]},"legend":{"title":null,"orient":"none","legendX":247,"legendY":12,"gradientLength":66,"gradientThickness":5,"values":[0.25,0.5,0.75,1],"format":".2f"}}}},
{"mark":{"type":"text","fontSize":11.3},"encoding":{"x":{"datum":0.056},"y":{"datum":0.409},"text":{"value":"Diffusivity map"}}},
{"mark":{"type":"text","angle":270},"encoding":{"x":{"datum":2.0},"y":{"datum":-0.01},"text":{"value":"Dʟ (µm²/s)"}}},
{"mark":{"type":"text"},"encoding":{"x":{"datum":0.016},"y":{"datum":-0.677},"text":{"value":"(µm)"}}}
]}
],"spacing":0,"bounds":"flush","resolve":{"scale":{"color":"independent"}}}
],"spacing":0,"bounds":"flush","resolve":{"scale":{"color":"independent"}}}
]}
